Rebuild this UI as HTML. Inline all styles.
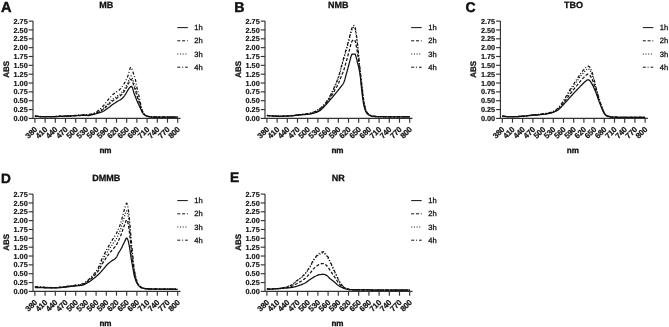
<!DOCTYPE html>
<html><head><meta charset="utf-8"><style>
html,body{margin:0;padding:0;background:#fff;width:669px;height:327px;overflow:hidden}
svg{display:block;filter:grayscale(1)}
text{font-family:"Liberation Sans", sans-serif;fill:#111;font-weight:bold;stroke:#111;text-rendering:geometricPrecision}
.yl{font-size:7.3px;text-anchor:end;stroke-width:0.15}
.xl{font-size:7.8px;text-anchor:end;stroke-width:0.22}
.at{font-size:8.1px;text-anchor:middle;stroke-width:0.3}
.ab{font-size:8.0px;text-anchor:middle;stroke-width:0.3}
.ti{font-size:9px;text-anchor:middle;stroke-width:0.3}
.le{stroke-width:0.45}
.lg{font-size:7.6px;stroke-width:0.28;font-weight:normal}
</style></head><body>
<svg width="669" height="327" viewBox="0 0 669 327">
<rect width="669" height="327" fill="#fff"/>
<path d="M33.0,21.11 V118.4 H180.50" fill="none" stroke="#333" stroke-width="1.15"/>
<path d="M28.70,118.40 H33.0" stroke="#333" stroke-width="1.15"/>
<text x="27.70" y="121.00" class="yl">0.00</text>
<path d="M28.70,109.56 H33.0" stroke="#333" stroke-width="1.15"/>
<text x="27.70" y="112.16" class="yl">0.25</text>
<path d="M28.70,100.71 H33.0" stroke="#333" stroke-width="1.15"/>
<text x="27.70" y="103.31" class="yl">0.50</text>
<path d="M28.70,91.87 H33.0" stroke="#333" stroke-width="1.15"/>
<text x="27.70" y="94.47" class="yl">0.75</text>
<path d="M28.70,83.02 H33.0" stroke="#333" stroke-width="1.15"/>
<text x="27.70" y="85.62" class="yl">1.00</text>
<path d="M28.70,74.18 H33.0" stroke="#333" stroke-width="1.15"/>
<text x="27.70" y="76.78" class="yl">1.25</text>
<path d="M28.70,65.33 H33.0" stroke="#333" stroke-width="1.15"/>
<text x="27.70" y="67.93" class="yl">1.50</text>
<path d="M28.70,56.48 H33.0" stroke="#333" stroke-width="1.15"/>
<text x="27.70" y="59.09" class="yl">1.75</text>
<path d="M28.70,47.64 H33.0" stroke="#333" stroke-width="1.15"/>
<text x="27.70" y="50.24" class="yl">2.00</text>
<path d="M28.70,38.80 H33.0" stroke="#333" stroke-width="1.15"/>
<text x="27.70" y="41.40" class="yl">2.25</text>
<path d="M28.70,29.95 H33.0" stroke="#333" stroke-width="1.15"/>
<text x="27.70" y="32.55" class="yl">2.50</text>
<path d="M28.70,21.11 H33.0" stroke="#333" stroke-width="1.15"/>
<text x="27.70" y="23.71" class="yl">2.75</text>
<path d="M34.90,118.4 V122.70" stroke="#333" stroke-width="1.15"/>
<text x="37.80" y="129.90" class="xl" transform="rotate(-45 37.80 129.90)">380</text>
<path d="M45.10,118.4 V122.70" stroke="#333" stroke-width="1.15"/>
<text x="48.00" y="129.90" class="xl" transform="rotate(-45 48.00 129.90)">410</text>
<path d="M55.30,118.4 V122.70" stroke="#333" stroke-width="1.15"/>
<text x="58.20" y="129.90" class="xl" transform="rotate(-45 58.20 129.90)">440</text>
<path d="M65.50,118.4 V122.70" stroke="#333" stroke-width="1.15"/>
<text x="68.40" y="129.90" class="xl" transform="rotate(-45 68.40 129.90)">470</text>
<path d="M75.70,118.4 V122.70" stroke="#333" stroke-width="1.15"/>
<text x="78.60" y="129.90" class="xl" transform="rotate(-45 78.60 129.90)">500</text>
<path d="M85.90,118.4 V122.70" stroke="#333" stroke-width="1.15"/>
<text x="88.80" y="129.90" class="xl" transform="rotate(-45 88.80 129.90)">530</text>
<path d="M96.10,118.4 V122.70" stroke="#333" stroke-width="1.15"/>
<text x="99.00" y="129.90" class="xl" transform="rotate(-45 99.00 129.90)">560</text>
<path d="M106.30,118.4 V122.70" stroke="#333" stroke-width="1.15"/>
<text x="109.20" y="129.90" class="xl" transform="rotate(-45 109.20 129.90)">590</text>
<path d="M116.50,118.4 V122.70" stroke="#333" stroke-width="1.15"/>
<text x="119.40" y="129.90" class="xl" transform="rotate(-45 119.40 129.90)">620</text>
<path d="M126.70,118.4 V122.70" stroke="#333" stroke-width="1.15"/>
<text x="129.60" y="129.90" class="xl" transform="rotate(-45 129.60 129.90)">650</text>
<path d="M136.90,118.4 V122.70" stroke="#333" stroke-width="1.15"/>
<text x="139.80" y="129.90" class="xl" transform="rotate(-45 139.80 129.90)">680</text>
<path d="M147.10,118.4 V122.70" stroke="#333" stroke-width="1.15"/>
<text x="150.00" y="129.90" class="xl" transform="rotate(-45 150.00 129.90)">710</text>
<path d="M157.30,118.4 V122.70" stroke="#333" stroke-width="1.15"/>
<text x="160.20" y="129.90" class="xl" transform="rotate(-45 160.20 129.90)">740</text>
<path d="M167.50,118.4 V122.70" stroke="#333" stroke-width="1.15"/>
<text x="170.40" y="129.90" class="xl" transform="rotate(-45 170.40 129.90)">770</text>
<path d="M177.70,118.4 V122.70" stroke="#333" stroke-width="1.15"/>
<text x="180.60" y="129.90" class="xl" transform="rotate(-45 180.60 129.90)">800</text>
<text x="105.45" y="153.40" class="at">nm</text>
<text x="9.00" y="69.25" class="ab" transform="rotate(-90 9.00 69.25)">ABS</text>
<text x="106.15" y="8.21" class="ti">MB</text>
<text x="0.9" y="12.0" class="le" font-size="14.6">A</text>
<path d="M177.3,27.61 H187.80" stroke="#111" stroke-width="1"/>
<text x="194.30" y="30.21" class="lg">1h</text>
<path d="M177.3,40.81 H187.80" stroke="#111" stroke-width="1" stroke-dasharray="3 1.8"/>
<text x="194.30" y="43.41" class="lg">2h</text>
<path d="M177.3,54.01 H187.80" stroke="#111" stroke-width="1" stroke-dasharray="1 1.7"/>
<text x="194.30" y="56.61" class="lg">3h</text>
<path d="M177.3,67.20 H187.80" stroke="#111" stroke-width="1" stroke-dasharray="3 1.8 1 2"/>
<text x="194.30" y="69.80" class="lg">4h</text>
<path d="M34.9,116.3 35.4,116.3 35.9,116.3 36.4,116.4 36.9,116.4 37.4,116.4 38.0,116.4 38.5,116.4 39.0,116.5 39.5,116.5 40.0,116.5 40.5,116.5 41.0,116.5 41.5,116.6 42.0,116.6 42.5,116.6 43.1,116.6 43.6,116.6 44.1,116.6 44.6,116.6 45.1,116.7 45.6,116.7 46.1,116.7 46.6,116.7 47.1,116.7 47.6,116.7 48.2,116.7 48.7,116.7 49.2,116.7 49.7,116.7 50.2,116.7 50.7,116.7 51.2,116.7 51.7,116.6 52.2,116.6 52.8,116.6 53.3,116.6 53.8,116.6 54.3,116.6 54.8,116.5 55.3,116.5 55.8,116.5 56.3,116.5 56.8,116.5 57.3,116.5 57.8,116.5 58.4,116.4 58.9,116.4 59.4,116.4 59.9,116.4 60.4,116.4 60.9,116.4 61.4,116.4 61.9,116.3 62.4,116.3 62.9,116.3 63.5,116.3 64.0,116.3 64.5,116.3 65.0,116.2 65.5,116.2 66.0,116.2 66.5,116.2 67.0,116.2 67.5,116.1 68.0,116.1 68.6,116.1 69.1,116.1 69.6,116.1 70.1,116.0 70.6,116.0 71.1,116.0 71.6,115.9 72.1,115.9 72.6,115.9 73.2,115.8 73.7,115.8 74.2,115.8 74.7,115.8 75.2,115.7 75.7,115.7 76.2,115.7 76.7,115.7 77.2,115.6 77.7,115.6 78.2,115.6 78.8,115.6 79.3,115.5 79.8,115.5 80.3,115.5 80.8,115.4 81.3,115.4 81.8,115.4 82.3,115.4 82.8,115.4 83.3,115.3 83.9,115.3 84.4,115.3 84.9,115.3 85.4,115.3 85.9,115.3 86.4,115.3 86.9,115.3 87.4,115.5 87.9,115.6 88.4,115.5 89.0,115.5 89.5,115.4 90.0,115.3 90.5,115.2 91.0,115.0 91.5,114.9 92.0,114.8 92.5,114.6 93.0,114.5 93.5,114.4 94.1,114.3 94.6,114.1 95.1,114.0 95.6,113.8 96.1,113.7 96.6,113.5 97.1,113.4 97.6,113.2 98.1,113.1 98.6,112.9 99.2,112.8 99.7,112.6 100.2,112.5 100.7,112.3 101.2,112.1 101.7,111.9 102.2,111.8 102.7,111.6 103.2,111.3 103.8,111.0 104.3,110.7 104.8,110.3 105.3,110.0 105.8,109.6 106.3,109.2 106.8,108.9 107.3,108.5 107.8,108.2 108.3,107.8 108.8,107.5 109.4,107.1 109.9,106.7 110.4,106.2 110.9,105.8 111.4,105.4 111.9,105.0 112.4,104.6 112.9,104.3 113.4,103.9 113.9,103.6 114.5,103.3 115.0,103.0 115.5,102.7 116.0,102.4 116.5,102.0 117.0,101.6 117.5,101.3 118.0,101.0 118.5,100.7 119.0,100.5 119.6,100.2 120.1,99.9 120.6,99.6 121.1,99.2 121.6,98.9 122.1,98.4 122.6,98.0 123.1,97.5 123.6,96.9 124.2,96.2 124.7,95.5 125.2,94.7 125.7,93.8 126.2,93.0 126.7,92.1 127.2,91.3 127.7,90.4 128.2,89.7 128.7,88.9 129.2,88.2 129.8,87.5 130.3,86.9 130.8,86.6 131.3,86.4 131.8,86.6 132.3,87.6 132.8,88.9 133.3,90.6 133.8,92.5 134.3,94.1 134.9,95.5 135.4,96.7 135.9,98.1 136.4,99.4 136.9,100.7 137.4,101.8 137.9,102.9 138.4,103.9 138.9,105.0 139.4,106.2 140.0,107.4 140.5,108.5 141.0,109.6 141.5,110.7 142.0,111.8 142.5,112.7 143.0,113.4 143.5,114.0 144.0,114.5 144.5,114.9 145.1,115.2 145.6,115.5 146.1,115.8 146.6,116.0 147.1,116.1 147.6,116.3 148.1,116.4 148.6,116.6 149.1,116.7 149.6,116.8 150.2,116.8 150.7,116.9 151.2,116.9 151.7,116.9 152.2,117.0 152.7,117.0 153.2,117.0 153.7,117.0 154.2,117.0 154.8,117.0 155.3,117.0 155.8,117.1 156.3,117.1 156.8,117.1 157.3,117.1 157.8,117.1 158.3,117.1 158.8,117.1 159.3,117.1 159.8,117.1 160.4,117.1 160.9,117.1 161.4,117.1 161.9,117.1 162.4,117.1 162.9,117.1 163.4,117.1 163.9,117.1 164.4,117.1 164.9,117.1 165.5,117.1 166.0,117.1 166.5,117.1 167.0,117.1 167.5,117.1 168.0,117.1 168.5,117.1 169.0,117.1 169.5,117.1 170.0,117.1 170.6,117.1 171.1,117.1 171.6,117.1 172.1,117.1 172.6,117.1 173.1,117.1 173.6,117.1 174.1,117.1 174.6,117.1 175.2,117.1 175.7,117.1 176.2,117.1 176.7,117.1 177.2,117.1 177.7,117.1" fill="none" stroke="#111" stroke-width="1.25"/>
<path d="M34.9,116.2 35.4,116.2 35.9,116.3 36.4,116.3 36.9,116.3 37.4,116.3 38.0,116.4 38.5,116.4 39.0,116.4 39.5,116.4 40.0,116.5 40.5,116.5 41.0,116.5 41.5,116.5 42.0,116.5 42.5,116.5 43.1,116.6 43.6,116.6 44.1,116.6 44.6,116.6 45.1,116.6 45.6,116.6 46.1,116.7 46.6,116.7 47.1,116.7 47.6,116.7 48.2,116.7 48.7,116.7 49.2,116.7 49.7,116.7 50.2,116.6 50.7,116.6 51.2,116.6 51.7,116.6 52.2,116.6 52.8,116.6 53.3,116.6 53.8,116.5 54.3,116.5 54.8,116.5 55.3,116.5 55.8,116.5 56.3,116.4 56.8,116.4 57.3,116.4 57.8,116.4 58.4,116.4 58.9,116.4 59.4,116.4 59.9,116.3 60.4,116.3 60.9,116.3 61.4,116.3 61.9,116.3 62.4,116.3 62.9,116.2 63.5,116.2 64.0,116.2 64.5,116.2 65.0,116.2 65.5,116.1 66.0,116.1 66.5,116.1 67.0,116.1 67.5,116.1 68.0,116.0 68.6,116.0 69.1,116.0 69.6,116.0 70.1,115.9 70.6,115.9 71.1,115.9 71.6,115.8 72.1,115.8 72.6,115.8 73.2,115.7 73.7,115.7 74.2,115.7 74.7,115.6 75.2,115.6 75.7,115.6 76.2,115.5 76.7,115.5 77.2,115.5 77.7,115.5 78.2,115.4 78.8,115.4 79.3,115.4 79.8,115.3 80.3,115.3 80.8,115.3 81.3,115.2 81.8,115.2 82.3,115.2 82.8,115.2 83.3,115.1 83.9,115.1 84.4,115.1 84.9,115.1 85.4,115.0 85.9,115.0 86.4,115.0 86.9,115.0 87.4,115.1 87.9,115.1 88.4,115.1 89.0,115.1 89.5,115.0 90.0,114.9 90.5,114.8 91.0,114.7 91.5,114.6 92.0,114.5 92.5,114.3 93.0,114.2 93.5,114.0 94.1,113.8 94.6,113.6 95.1,113.5 95.6,113.3 96.1,113.1 96.6,112.9 97.1,112.7 97.6,112.5 98.1,112.2 98.6,112.0 99.2,111.7 99.7,111.5 100.2,111.2 100.7,110.9 101.2,110.6 101.7,110.3 102.2,110.0 102.7,109.7 103.2,109.3 103.8,109.0 104.3,108.5 104.8,108.0 105.3,107.5 105.8,107.0 106.3,106.6 106.8,106.1 107.3,105.6 107.8,105.2 108.3,104.8 108.8,104.3 109.4,103.8 109.9,103.4 110.4,102.9 110.9,102.4 111.4,101.9 111.9,101.5 112.4,101.1 112.9,100.7 113.4,100.3 113.9,100.0 114.5,99.6 115.0,99.3 115.5,99.0 116.0,98.7 116.5,98.3 117.0,97.9 117.5,97.6 118.0,97.3 118.5,97.0 119.0,96.7 119.6,96.3 120.1,95.9 120.6,95.5 121.1,95.1 121.6,94.6 122.1,94.1 122.6,93.5 123.1,92.9 123.6,92.2 124.2,91.5 124.7,90.7 125.2,89.9 125.7,89.0 126.2,88.1 126.7,87.2 127.2,86.2 127.7,85.2 128.2,84.2 128.7,83.2 129.2,82.0 129.8,80.9 130.3,79.8 130.8,79.5 131.3,79.4 131.8,80.0 132.3,81.1 132.8,82.4 133.3,84.1 133.8,85.8 134.3,87.4 134.9,88.8 135.4,90.3 135.9,92.1 136.4,94.0 136.9,95.7 137.4,97.2 137.9,98.7 138.4,100.1 138.9,101.6 139.4,103.1 140.0,104.9 140.5,106.6 141.0,108.1 141.5,109.6 142.0,110.9 142.5,112.1 143.0,112.9 143.5,113.6 144.0,114.1 144.5,114.6 145.1,115.1 145.6,115.4 146.1,115.7 146.6,115.9 147.1,116.1 147.6,116.2 148.1,116.4 148.6,116.5 149.1,116.6 149.6,116.7 150.2,116.8 150.7,116.8 151.2,116.9 151.7,116.9 152.2,116.9 152.7,116.9 153.2,116.9 153.7,117.0 154.2,117.0 154.8,117.0 155.3,117.0 155.8,117.0 156.3,117.0 156.8,117.0 157.3,117.0 157.8,117.0 158.3,117.0 158.8,117.0 159.3,117.1 159.8,117.1 160.4,117.1 160.9,117.1 161.4,117.1 161.9,117.1 162.4,117.1 162.9,117.1 163.4,117.1 163.9,117.1 164.4,117.1 164.9,117.1 165.5,117.1 166.0,117.1 166.5,117.1 167.0,117.1 167.5,117.1 168.0,117.1 168.5,117.1 169.0,117.1 169.5,117.1 170.0,117.1 170.6,117.1 171.1,117.1 171.6,117.1 172.1,117.1 172.6,117.1 173.1,117.1 173.6,117.1 174.1,117.1 174.6,117.1 175.2,117.1 175.7,117.1 176.2,117.1 176.7,117.1 177.2,117.1 177.7,117.1" fill="none" stroke="#111" stroke-width="1.25" stroke-dasharray="3 1.8"/>
<path d="M34.9,116.2 35.4,116.2 35.9,116.2 36.4,116.3 36.9,116.3 37.4,116.3 38.0,116.3 38.5,116.4 39.0,116.4 39.5,116.4 40.0,116.4 40.5,116.5 41.0,116.5 41.5,116.5 42.0,116.5 42.5,116.5 43.1,116.6 43.6,116.6 44.1,116.6 44.6,116.6 45.1,116.6 45.6,116.6 46.1,116.6 46.6,116.7 47.1,116.7 47.6,116.7 48.2,116.7 48.7,116.7 49.2,116.7 49.7,116.6 50.2,116.6 50.7,116.6 51.2,116.6 51.7,116.6 52.2,116.6 52.8,116.6 53.3,116.5 53.8,116.5 54.3,116.5 54.8,116.5 55.3,116.5 55.8,116.4 56.3,116.4 56.8,116.4 57.3,116.4 57.8,116.4 58.4,116.4 58.9,116.3 59.4,116.3 59.9,116.3 60.4,116.3 60.9,116.3 61.4,116.3 61.9,116.2 62.4,116.2 62.9,116.2 63.5,116.2 64.0,116.2 64.5,116.1 65.0,116.1 65.5,116.1 66.0,116.1 66.5,116.1 67.0,116.0 67.5,116.0 68.0,116.0 68.6,116.0 69.1,115.9 69.6,115.9 70.1,115.9 70.6,115.9 71.1,115.8 71.6,115.8 72.1,115.7 72.6,115.7 73.2,115.7 73.7,115.6 74.2,115.6 74.7,115.6 75.2,115.5 75.7,115.5 76.2,115.5 76.7,115.4 77.2,115.4 77.7,115.4 78.2,115.3 78.8,115.3 79.3,115.3 79.8,115.2 80.3,115.2 80.8,115.2 81.3,115.2 81.8,115.1 82.3,115.1 82.8,115.1 83.3,115.0 83.9,115.0 84.4,115.0 84.9,114.9 85.4,114.9 85.9,114.9 86.4,114.9 86.9,114.9 87.4,114.9 87.9,114.9 88.4,114.9 89.0,114.9 89.5,114.8 90.0,114.7 90.5,114.7 91.0,114.6 91.5,114.4 92.0,114.3 92.5,114.2 93.0,114.0 93.5,113.8 94.1,113.6 94.6,113.4 95.1,113.2 95.6,113.0 96.1,112.8 96.6,112.6 97.1,112.3 97.6,112.1 98.1,111.8 98.6,111.5 99.2,111.2 99.7,110.9 100.2,110.6 100.7,110.3 101.2,109.9 101.7,109.6 102.2,109.2 102.7,108.9 103.2,108.4 103.8,108.0 104.3,107.5 104.8,107.0 105.3,106.4 105.8,105.9 106.3,105.3 106.8,104.8 107.3,104.3 107.8,103.8 108.3,103.4 108.8,102.9 109.4,102.4 109.9,101.8 110.4,101.3 110.9,100.8 111.4,100.3 111.9,99.9 112.4,99.4 112.9,99.0 113.4,98.6 113.9,98.3 114.5,97.9 115.0,97.6 115.5,97.3 116.0,96.9 116.5,96.6 117.0,96.2 117.5,95.9 118.0,95.6 118.5,95.3 119.0,94.9 119.6,94.6 120.1,94.1 120.6,93.7 121.1,93.1 121.6,92.6 122.1,92.0 122.6,91.4 123.1,90.8 123.6,90.1 124.2,89.3 124.7,88.5 125.2,87.7 125.7,86.8 126.2,85.9 126.7,84.9 127.2,83.9 127.7,82.9 128.2,81.8 128.7,80.5 129.2,79.2 129.8,77.8 130.3,76.5 130.8,76.2 131.3,76.2 131.8,76.9 132.3,78.1 132.8,79.4 133.3,81.1 133.8,82.8 134.3,84.3 134.9,85.8 135.4,87.4 135.9,89.4 136.4,91.5 136.9,93.5 137.4,95.1 137.9,96.7 138.4,98.3 138.9,100.0 139.4,101.8 140.0,103.8 140.5,105.8 141.0,107.4 141.5,109.0 142.0,110.5 142.5,111.8 143.0,112.7 143.5,113.4 144.0,114.0 144.5,114.5 145.1,115.0 145.6,115.4 146.1,115.7 146.6,115.9 147.1,116.1 147.6,116.2 148.1,116.4 148.6,116.5 149.1,116.6 149.6,116.7 150.2,116.8 150.7,116.8 151.2,116.9 151.7,116.9 152.2,116.9 152.7,116.9 153.2,116.9 153.7,116.9 154.2,117.0 154.8,117.0 155.3,117.0 155.8,117.0 156.3,117.0 156.8,117.0 157.3,117.0 157.8,117.0 158.3,117.0 158.8,117.0 159.3,117.0 159.8,117.0 160.4,117.0 160.9,117.0 161.4,117.0 161.9,117.0 162.4,117.0 162.9,117.0 163.4,117.0 163.9,117.0 164.4,117.0 164.9,117.0 165.5,117.0 166.0,117.0 166.5,117.0 167.0,117.0 167.5,117.0 168.0,117.0 168.5,117.0 169.0,117.0 169.5,117.0 170.0,117.0 170.6,117.0 171.1,117.0 171.6,117.0 172.1,117.0 172.6,117.0 173.1,117.0 173.6,117.0 174.1,117.0 174.6,117.0 175.2,117.0 175.7,117.0 176.2,117.0 176.7,117.0 177.2,117.0 177.7,117.0" fill="none" stroke="#111" stroke-width="1.25" stroke-dasharray="1 1.7"/>
<path d="M34.9,116.1 35.4,116.1 35.9,116.2 36.4,116.2 36.9,116.2 37.4,116.3 38.0,116.3 38.5,116.3 39.0,116.3 39.5,116.4 40.0,116.4 40.5,116.4 41.0,116.4 41.5,116.4 42.0,116.5 42.5,116.5 43.1,116.5 43.6,116.5 44.1,116.5 44.6,116.6 45.1,116.6 45.6,116.6 46.1,116.6 46.6,116.6 47.1,116.6 47.6,116.6 48.2,116.6 48.7,116.6 49.2,116.6 49.7,116.6 50.2,116.6 50.7,116.6 51.2,116.6 51.7,116.5 52.2,116.5 52.8,116.5 53.3,116.5 53.8,116.5 54.3,116.4 54.8,116.4 55.3,116.4 55.8,116.4 56.3,116.4 56.8,116.3 57.3,116.3 57.8,116.3 58.4,116.3 58.9,116.3 59.4,116.2 59.9,116.2 60.4,116.2 60.9,116.2 61.4,116.2 61.9,116.2 62.4,116.1 62.9,116.1 63.5,116.1 64.0,116.1 64.5,116.0 65.0,116.0 65.5,116.0 66.0,116.0 66.5,116.0 67.0,115.9 67.5,115.9 68.0,115.9 68.6,115.9 69.1,115.8 69.6,115.8 70.1,115.8 70.6,115.7 71.1,115.7 71.6,115.7 72.1,115.6 72.6,115.6 73.2,115.5 73.7,115.5 74.2,115.5 74.7,115.4 75.2,115.4 75.7,115.3 76.2,115.3 76.7,115.3 77.2,115.2 77.7,115.2 78.2,115.2 78.8,115.1 79.3,115.1 79.8,115.0 80.3,115.0 80.8,115.0 81.3,114.9 81.8,114.9 82.3,114.8 82.8,114.8 83.3,114.8 83.9,114.7 84.4,114.7 84.9,114.6 85.4,114.6 85.9,114.6 86.4,114.5 86.9,114.5 87.4,114.4 87.9,114.4 88.4,114.4 89.0,114.4 89.5,114.3 90.0,114.3 90.5,114.2 91.0,114.2 91.5,114.1 92.0,113.9 92.5,113.7 93.0,113.5 93.5,113.3 94.1,113.1 94.6,112.8 95.1,112.6 95.6,112.3 96.1,112.1 96.6,111.8 97.1,111.5 97.6,111.1 98.1,110.7 98.6,110.3 99.2,109.9 99.7,109.5 100.2,109.0 100.7,108.6 101.2,108.1 101.7,107.6 102.2,107.1 102.7,106.5 103.2,106.0 103.8,105.4 104.3,104.7 104.8,104.1 105.3,103.4 105.8,102.7 106.3,102.1 106.8,101.4 107.3,100.8 107.8,100.2 108.3,99.5 108.8,98.9 109.4,98.3 109.9,97.7 110.4,97.1 110.9,96.6 111.4,96.0 111.9,95.5 112.4,95.0 112.9,94.5 113.4,94.1 113.9,93.7 114.5,93.4 115.0,93.0 115.5,92.7 116.0,92.3 116.5,92.0 117.0,91.6 117.5,91.3 118.0,91.0 118.5,90.6 119.0,90.2 119.6,89.8 120.1,89.2 120.6,88.6 121.1,87.9 121.6,87.3 122.1,86.6 122.6,85.8 123.1,85.1 123.6,84.3 124.2,83.5 124.7,82.6 125.2,81.7 125.7,80.8 126.2,79.8 126.7,78.8 127.2,77.6 127.7,76.4 128.2,75.0 128.7,73.4 129.2,71.5 129.8,69.6 130.3,67.7 130.8,67.5 131.3,67.6 131.8,68.7 132.3,70.0 132.8,71.4 133.3,73.0 133.8,74.5 134.3,75.9 134.9,77.5 135.4,79.5 135.9,82.0 136.4,84.7 136.9,87.3 137.4,89.5 137.9,91.5 138.4,93.6 138.9,95.7 139.4,98.0 140.0,100.8 140.5,103.5 141.0,105.6 141.5,107.6 142.0,109.4 142.5,110.9 143.0,112.0 143.5,112.9 144.0,113.6 144.5,114.2 145.1,114.8 145.6,115.3 146.1,115.6 146.6,115.8 147.1,116.0 147.6,116.2 148.1,116.3 148.6,116.4 149.1,116.6 149.6,116.6 150.2,116.7 150.7,116.8 151.2,116.8 151.7,116.8 152.2,116.8 152.7,116.9 153.2,116.9 153.7,116.9 154.2,116.9 154.8,116.9 155.3,116.9 155.8,116.9 156.3,117.0 156.8,117.0 157.3,117.0 157.8,117.0 158.3,117.0 158.8,117.0 159.3,117.0 159.8,117.0 160.4,117.0 160.9,117.0 161.4,117.0 161.9,117.0 162.4,117.0 162.9,117.0 163.4,117.0 163.9,117.0 164.4,117.0 164.9,117.0 165.5,117.0 166.0,117.0 166.5,117.0 167.0,117.0 167.5,117.0 168.0,117.0 168.5,117.0 169.0,117.0 169.5,117.0 170.0,117.0 170.6,117.0 171.1,117.0 171.6,117.0 172.1,117.0 172.6,117.0 173.1,117.0 173.6,117.0 174.1,117.0 174.6,117.0 175.2,117.0 175.7,117.0 176.2,117.0 176.7,117.0 177.2,117.0 177.7,117.0" fill="none" stroke="#111" stroke-width="1.25" stroke-dasharray="3 1.8 1 2"/>
<path d="M265.0,21.11 V118.4 H412.50" fill="none" stroke="#333" stroke-width="1.15"/>
<path d="M260.70,118.40 H265.0" stroke="#333" stroke-width="1.15"/>
<text x="259.70" y="121.00" class="yl">0.00</text>
<path d="M260.70,109.56 H265.0" stroke="#333" stroke-width="1.15"/>
<text x="259.70" y="112.16" class="yl">0.25</text>
<path d="M260.70,100.71 H265.0" stroke="#333" stroke-width="1.15"/>
<text x="259.70" y="103.31" class="yl">0.50</text>
<path d="M260.70,91.87 H265.0" stroke="#333" stroke-width="1.15"/>
<text x="259.70" y="94.47" class="yl">0.75</text>
<path d="M260.70,83.02 H265.0" stroke="#333" stroke-width="1.15"/>
<text x="259.70" y="85.62" class="yl">1.00</text>
<path d="M260.70,74.18 H265.0" stroke="#333" stroke-width="1.15"/>
<text x="259.70" y="76.78" class="yl">1.25</text>
<path d="M260.70,65.33 H265.0" stroke="#333" stroke-width="1.15"/>
<text x="259.70" y="67.93" class="yl">1.50</text>
<path d="M260.70,56.48 H265.0" stroke="#333" stroke-width="1.15"/>
<text x="259.70" y="59.09" class="yl">1.75</text>
<path d="M260.70,47.64 H265.0" stroke="#333" stroke-width="1.15"/>
<text x="259.70" y="50.24" class="yl">2.00</text>
<path d="M260.70,38.80 H265.0" stroke="#333" stroke-width="1.15"/>
<text x="259.70" y="41.40" class="yl">2.25</text>
<path d="M260.70,29.95 H265.0" stroke="#333" stroke-width="1.15"/>
<text x="259.70" y="32.55" class="yl">2.50</text>
<path d="M260.70,21.11 H265.0" stroke="#333" stroke-width="1.15"/>
<text x="259.70" y="23.71" class="yl">2.75</text>
<path d="M266.90,118.4 V122.70" stroke="#333" stroke-width="1.15"/>
<text x="269.80" y="129.90" class="xl" transform="rotate(-45 269.80 129.90)">380</text>
<path d="M277.10,118.4 V122.70" stroke="#333" stroke-width="1.15"/>
<text x="280.00" y="129.90" class="xl" transform="rotate(-45 280.00 129.90)">410</text>
<path d="M287.30,118.4 V122.70" stroke="#333" stroke-width="1.15"/>
<text x="290.20" y="129.90" class="xl" transform="rotate(-45 290.20 129.90)">440</text>
<path d="M297.50,118.4 V122.70" stroke="#333" stroke-width="1.15"/>
<text x="300.40" y="129.90" class="xl" transform="rotate(-45 300.40 129.90)">470</text>
<path d="M307.70,118.4 V122.70" stroke="#333" stroke-width="1.15"/>
<text x="310.60" y="129.90" class="xl" transform="rotate(-45 310.60 129.90)">500</text>
<path d="M317.90,118.4 V122.70" stroke="#333" stroke-width="1.15"/>
<text x="320.80" y="129.90" class="xl" transform="rotate(-45 320.80 129.90)">530</text>
<path d="M328.10,118.4 V122.70" stroke="#333" stroke-width="1.15"/>
<text x="331.00" y="129.90" class="xl" transform="rotate(-45 331.00 129.90)">560</text>
<path d="M338.30,118.4 V122.70" stroke="#333" stroke-width="1.15"/>
<text x="341.20" y="129.90" class="xl" transform="rotate(-45 341.20 129.90)">590</text>
<path d="M348.50,118.4 V122.70" stroke="#333" stroke-width="1.15"/>
<text x="351.40" y="129.90" class="xl" transform="rotate(-45 351.40 129.90)">620</text>
<path d="M358.70,118.4 V122.70" stroke="#333" stroke-width="1.15"/>
<text x="361.60" y="129.90" class="xl" transform="rotate(-45 361.60 129.90)">650</text>
<path d="M368.90,118.4 V122.70" stroke="#333" stroke-width="1.15"/>
<text x="371.80" y="129.90" class="xl" transform="rotate(-45 371.80 129.90)">680</text>
<path d="M379.10,118.4 V122.70" stroke="#333" stroke-width="1.15"/>
<text x="382.00" y="129.90" class="xl" transform="rotate(-45 382.00 129.90)">710</text>
<path d="M389.30,118.4 V122.70" stroke="#333" stroke-width="1.15"/>
<text x="392.20" y="129.90" class="xl" transform="rotate(-45 392.20 129.90)">740</text>
<path d="M399.50,118.4 V122.70" stroke="#333" stroke-width="1.15"/>
<text x="402.40" y="129.90" class="xl" transform="rotate(-45 402.40 129.90)">770</text>
<path d="M409.70,118.4 V122.70" stroke="#333" stroke-width="1.15"/>
<text x="412.60" y="129.90" class="xl" transform="rotate(-45 412.60 129.90)">800</text>
<text x="337.45" y="153.40" class="at">nm</text>
<text x="241.00" y="69.25" class="ab" transform="rotate(-90 241.00 69.25)">ABS</text>
<text x="338.15" y="8.21" class="ti">NMB</text>
<text x="234.2" y="11.6" class="le" font-size="14.2">B</text>
<path d="M411.2,27.61 H421.70" stroke="#111" stroke-width="1"/>
<text x="428.20" y="30.21" class="lg">1h</text>
<path d="M411.2,40.81 H421.70" stroke="#111" stroke-width="1" stroke-dasharray="3 1.8"/>
<text x="428.20" y="43.41" class="lg">2h</text>
<path d="M411.2,54.01 H421.70" stroke="#111" stroke-width="1" stroke-dasharray="1 1.7"/>
<text x="428.20" y="56.61" class="lg">3h</text>
<path d="M411.2,67.20 H421.70" stroke="#111" stroke-width="1" stroke-dasharray="3 1.8 1 2"/>
<text x="428.20" y="69.80" class="lg">4h</text>
<path d="M266.9,115.6 267.4,115.6 267.9,115.6 268.4,115.7 268.9,115.7 269.4,115.8 270.0,115.8 270.5,115.8 271.0,115.9 271.5,115.9 272.0,115.9 272.5,116.0 273.0,116.0 273.5,116.0 274.0,116.1 274.5,116.1 275.1,116.2 275.6,116.2 276.1,116.2 276.6,116.3 277.1,116.3 277.6,116.3 278.1,116.3 278.6,116.3 279.1,116.3 279.6,116.3 280.2,116.3 280.7,116.3 281.2,116.3 281.7,116.3 282.2,116.3 282.7,116.3 283.2,116.3 283.7,116.3 284.2,116.2 284.8,116.2 285.3,116.2 285.8,116.2 286.3,116.2 286.8,116.1 287.3,116.1 287.8,116.1 288.3,116.0 288.8,116.0 289.3,116.0 289.8,115.9 290.4,115.9 290.9,115.9 291.4,115.8 291.9,115.8 292.4,115.7 292.9,115.7 293.4,115.6 293.9,115.6 294.4,115.5 294.9,115.5 295.5,115.4 296.0,115.3 296.5,115.3 297.0,115.2 297.5,115.2 298.0,115.1 298.5,115.0 299.0,115.0 299.5,114.9 300.0,114.9 300.6,114.8 301.1,114.8 301.6,114.7 302.1,114.7 302.6,114.7 303.1,114.6 303.6,114.6 304.1,114.6 304.6,114.5 305.1,114.5 305.7,114.5 306.2,114.4 306.7,114.4 307.2,114.4 307.7,114.3 308.2,114.3 308.7,114.2 309.2,114.1 309.7,114.1 310.2,114.0 310.8,113.9 311.3,113.8 311.8,113.7 312.3,113.5 312.8,113.4 313.3,113.3 313.8,113.1 314.3,113.0 314.8,112.8 315.3,112.7 315.9,112.5 316.4,112.3 316.9,112.1 317.4,111.9 317.9,111.7 318.4,111.4 318.9,111.2 319.4,110.9 319.9,110.6 320.4,110.3 321.0,109.8 321.5,109.3 322.0,108.8 322.5,108.3 323.0,107.8 323.5,107.3 324.0,106.8 324.5,106.2 325.0,105.7 325.5,105.1 326.1,104.5 326.6,104.0 327.1,103.4 327.6,102.8 328.1,102.3 328.6,101.7 329.1,101.1 329.6,100.5 330.1,99.9 330.6,99.3 331.2,98.7 331.7,98.1 332.2,97.5 332.7,96.9 333.2,96.3 333.7,95.6 334.2,95.0 334.7,94.4 335.2,93.8 335.8,93.2 336.3,92.5 336.8,91.9 337.3,91.3 337.8,90.6 338.3,90.0 338.8,89.4 339.3,88.8 339.8,88.1 340.3,87.5 340.8,86.8 341.4,86.1 341.9,85.4 342.4,84.8 342.9,84.1 343.4,83.3 343.9,82.3 344.4,81.1 344.9,79.4 345.4,77.5 345.9,75.4 346.5,73.5 347.0,71.6 347.5,69.8 348.0,67.9 348.5,66.0 349.0,64.1 349.5,62.2 350.0,60.3 350.5,58.4 351.0,56.5 351.6,55.1 352.1,54.1 352.6,54.0 353.1,54.0 353.6,54.0 354.1,54.0 354.6,54.0 355.1,54.1 355.6,55.4 356.1,57.2 356.7,59.2 357.2,61.3 357.7,63.4 358.2,65.4 358.7,67.4 359.2,69.6 359.7,72.1 360.2,75.5 360.7,80.3 361.2,85.4 361.8,90.4 362.3,95.1 362.8,98.9 363.3,102.3 363.8,105.0 364.3,107.0 364.8,108.9 365.3,110.4 365.8,111.5 366.3,112.4 366.9,113.2 367.4,113.8 367.9,114.4 368.4,114.8 368.9,115.0 369.4,115.3 369.9,115.5 370.4,115.7 370.9,115.9 371.4,116.1 372.0,116.2 372.5,116.3 373.0,116.3 373.5,116.4 374.0,116.4 374.5,116.5 375.0,116.5 375.5,116.5 376.0,116.6 376.5,116.6 377.1,116.6 377.6,116.6 378.1,116.7 378.6,116.7 379.1,116.7 379.6,116.7 380.1,116.7 380.6,116.7 381.1,116.7 381.6,116.7 382.2,116.7 382.7,116.7 383.2,116.7 383.7,116.8 384.2,116.8 384.7,116.8 385.2,116.8 385.7,116.8 386.2,116.8 386.8,116.8 387.3,116.8 387.8,116.8 388.3,116.8 388.8,116.8 389.3,116.8 389.8,116.8 390.3,116.8 390.8,116.8 391.3,116.8 391.8,116.8 392.4,116.8 392.9,116.8 393.4,116.8 393.9,116.8 394.4,116.8 394.9,116.8 395.4,116.8 395.9,116.8 396.4,116.8 396.9,116.8 397.5,116.8 398.0,116.8 398.5,116.8 399.0,116.8 399.5,116.8 400.0,116.8 400.5,116.8 401.0,116.8 401.5,116.8 402.0,116.8 402.6,116.8 403.1,116.8 403.6,116.8 404.1,116.8 404.6,116.8 405.1,116.8 405.6,116.8 406.1,116.8 406.6,116.8 407.1,116.8 407.7,116.8 408.2,116.8 408.7,116.8 409.2,116.8 409.7,116.8" fill="none" stroke="#111" stroke-width="1.25"/>
<path d="M266.9,115.5 267.4,115.5 267.9,115.6 268.4,115.6 268.9,115.6 269.4,115.7 270.0,115.7 270.5,115.7 271.0,115.8 271.5,115.8 272.0,115.8 272.5,115.9 273.0,115.9 273.5,116.0 274.0,116.0 274.5,116.0 275.1,116.1 275.6,116.1 276.1,116.1 276.6,116.2 277.1,116.2 277.6,116.2 278.1,116.2 278.6,116.2 279.1,116.2 279.6,116.2 280.2,116.2 280.7,116.2 281.2,116.2 281.7,116.2 282.2,116.2 282.7,116.2 283.2,116.2 283.7,116.2 284.2,116.2 284.8,116.1 285.3,116.1 285.8,116.1 286.3,116.1 286.8,116.0 287.3,116.0 287.8,116.0 288.3,115.9 288.8,115.9 289.3,115.8 289.8,115.8 290.4,115.8 290.9,115.7 291.4,115.7 291.9,115.7 292.4,115.6 292.9,115.6 293.4,115.5 293.9,115.5 294.4,115.4 294.9,115.3 295.5,115.3 296.0,115.2 296.5,115.1 297.0,115.1 297.5,115.0 298.0,114.9 298.5,114.9 299.0,114.8 299.5,114.8 300.0,114.7 300.6,114.6 301.1,114.6 301.6,114.6 302.1,114.5 302.6,114.5 303.1,114.4 303.6,114.4 304.1,114.3 304.6,114.3 305.1,114.2 305.7,114.2 306.2,114.2 306.7,114.1 307.2,114.0 307.7,114.0 308.2,113.9 308.7,113.9 309.2,113.8 309.7,113.7 310.2,113.6 310.8,113.5 311.3,113.3 311.8,113.2 312.3,113.0 312.8,112.9 313.3,112.7 313.8,112.5 314.3,112.4 314.8,112.2 315.3,112.0 315.9,111.8 316.4,111.5 316.9,111.3 317.4,111.0 317.9,110.8 318.4,110.5 318.9,110.2 319.4,109.9 319.9,109.6 320.4,109.2 321.0,108.8 321.5,108.3 322.0,107.9 322.5,107.4 323.0,106.9 323.5,106.4 324.0,105.8 324.5,105.3 325.0,104.7 325.5,104.1 326.1,103.4 326.6,102.8 327.1,102.1 327.6,101.4 328.1,100.7 328.6,100.0 329.1,99.3 329.6,98.6 330.1,97.8 330.6,97.1 331.2,96.3 331.7,95.5 332.2,94.7 332.7,93.8 333.2,93.0 333.7,92.1 334.2,91.2 334.7,90.3 335.2,89.4 335.8,88.5 336.3,87.6 336.8,86.7 337.3,85.7 337.8,84.7 338.3,83.7 338.8,82.6 339.3,81.4 339.8,80.2 340.3,78.9 340.8,77.6 341.4,76.2 341.9,74.9 342.4,73.6 342.9,72.4 343.4,71.1 343.9,69.7 344.4,68.2 344.9,66.5 345.4,64.6 345.9,62.7 346.5,60.8 347.0,59.0 347.5,57.1 348.0,55.3 348.5,53.4 349.0,51.5 349.5,49.6 350.0,47.6 350.5,45.6 351.0,43.6 351.6,42.0 352.1,41.0 352.6,40.4 353.1,40.0 353.6,39.7 354.1,39.7 354.6,40.0 355.1,40.7 355.6,42.4 356.1,45.2 356.7,48.2 357.2,51.2 357.7,54.5 358.2,57.9 358.7,61.6 359.2,65.6 359.7,69.3 360.2,73.2 360.7,77.9 361.2,82.6 361.8,87.3 362.3,92.0 362.8,96.1 363.3,99.6 363.8,102.7 364.3,105.2 364.8,107.3 365.3,109.2 365.8,110.6 366.3,111.7 366.9,112.6 367.4,113.3 367.9,113.9 368.4,114.4 368.9,114.8 369.4,115.1 369.9,115.3 370.4,115.5 370.9,115.7 371.4,115.9 372.0,116.0 372.5,116.1 373.0,116.2 373.5,116.3 374.0,116.3 374.5,116.4 375.0,116.4 375.5,116.5 376.0,116.5 376.5,116.5 377.1,116.6 377.6,116.6 378.1,116.6 378.6,116.6 379.1,116.7 379.6,116.7 380.1,116.7 380.6,116.7 381.1,116.7 381.6,116.7 382.2,116.7 382.7,116.7 383.2,116.7 383.7,116.7 384.2,116.7 384.7,116.7 385.2,116.7 385.7,116.7 386.2,116.7 386.8,116.7 387.3,116.8 387.8,116.8 388.3,116.8 388.8,116.8 389.3,116.8 389.8,116.8 390.3,116.8 390.8,116.8 391.3,116.8 391.8,116.8 392.4,116.8 392.9,116.8 393.4,116.8 393.9,116.8 394.4,116.8 394.9,116.8 395.4,116.8 395.9,116.8 396.4,116.8 396.9,116.8 397.5,116.8 398.0,116.8 398.5,116.8 399.0,116.8 399.5,116.8 400.0,116.8 400.5,116.8 401.0,116.8 401.5,116.8 402.0,116.8 402.6,116.8 403.1,116.8 403.6,116.8 404.1,116.8 404.6,116.8 405.1,116.8 405.6,116.8 406.1,116.8 406.6,116.8 407.1,116.8 407.7,116.8 408.2,116.8 408.7,116.8 409.2,116.8 409.7,116.8" fill="none" stroke="#111" stroke-width="1.25" stroke-dasharray="3 1.8"/>
<path d="M266.9,115.4 267.4,115.4 267.9,115.5 268.4,115.5 268.9,115.5 269.4,115.6 270.0,115.6 270.5,115.7 271.0,115.7 271.5,115.7 272.0,115.8 272.5,115.8 273.0,115.8 273.5,115.9 274.0,115.9 274.5,116.0 275.1,116.0 275.6,116.0 276.1,116.1 276.6,116.1 277.1,116.1 277.6,116.1 278.1,116.1 278.6,116.1 279.1,116.1 279.6,116.1 280.2,116.1 280.7,116.1 281.2,116.1 281.7,116.1 282.2,116.1 282.7,116.1 283.2,116.1 283.7,116.1 284.2,116.1 284.8,116.1 285.3,116.0 285.8,116.0 286.3,116.0 286.8,115.9 287.3,115.9 287.8,115.9 288.3,115.8 288.8,115.8 289.3,115.7 289.8,115.7 290.4,115.7 290.9,115.6 291.4,115.6 291.9,115.5 292.4,115.5 292.9,115.4 293.4,115.4 293.9,115.3 294.4,115.3 294.9,115.2 295.5,115.1 296.0,115.1 296.5,115.0 297.0,114.9 297.5,114.9 298.0,114.8 298.5,114.7 299.0,114.7 299.5,114.6 300.0,114.5 300.6,114.5 301.1,114.4 301.6,114.4 302.1,114.3 302.6,114.3 303.1,114.2 303.6,114.2 304.1,114.1 304.6,114.1 305.1,114.0 305.7,114.0 306.2,113.9 306.7,113.8 307.2,113.8 307.7,113.7 308.2,113.6 308.7,113.5 309.2,113.5 309.7,113.4 310.2,113.2 310.8,113.1 311.3,112.9 311.8,112.8 312.3,112.6 312.8,112.4 313.3,112.2 313.8,112.0 314.3,111.8 314.8,111.6 315.3,111.4 315.9,111.1 316.4,110.9 316.9,110.6 317.4,110.3 317.9,110.0 318.4,109.6 318.9,109.3 319.4,109.0 319.9,108.6 320.4,108.3 321.0,107.9 321.5,107.5 322.0,107.0 322.5,106.6 323.0,106.1 323.5,105.6 324.0,105.0 324.5,104.4 325.0,103.8 325.5,103.1 326.1,102.4 326.6,101.7 327.1,101.0 327.6,100.2 328.1,99.4 328.6,98.6 329.1,97.7 329.6,96.9 330.1,96.0 330.6,95.1 331.2,94.2 331.7,93.2 332.2,92.2 332.7,91.1 333.2,90.1 333.7,89.0 334.2,87.9 334.7,86.7 335.2,85.6 335.8,84.4 336.3,83.3 336.8,82.0 337.3,80.8 337.8,79.5 338.3,78.1 338.8,76.6 339.3,75.0 339.8,73.2 340.3,71.4 340.8,69.4 341.4,67.5 341.9,65.6 342.4,63.8 342.9,62.1 343.4,60.4 343.9,58.6 344.4,56.9 344.9,55.1 345.4,53.4 345.9,51.5 346.5,49.7 347.0,47.9 347.5,46.0 348.0,44.2 348.5,42.3 349.0,40.4 349.5,38.5 350.0,36.5 350.5,34.4 351.0,32.3 351.6,30.6 352.1,29.4 352.6,28.5 353.1,27.7 353.6,27.2 354.1,27.1 354.6,27.8 355.1,28.9 355.6,31.0 356.1,34.7 356.7,38.4 357.2,42.4 357.7,46.6 358.2,51.3 358.7,56.6 359.2,62.0 359.7,66.8 360.2,71.3 360.7,75.7 361.2,80.1 361.8,84.6 362.3,89.2 362.8,93.5 363.3,97.3 363.8,100.7 364.3,103.6 364.8,106.0 365.3,108.1 365.8,109.8 366.3,111.1 366.9,112.0 367.4,112.9 367.9,113.6 368.4,114.1 368.9,114.5 369.4,114.8 369.9,115.1 370.4,115.4 370.9,115.6 371.4,115.8 372.0,115.9 372.5,116.0 373.0,116.1 373.5,116.2 374.0,116.2 374.5,116.3 375.0,116.4 375.5,116.4 376.0,116.4 376.5,116.5 377.1,116.5 377.6,116.6 378.1,116.6 378.6,116.6 379.1,116.6 379.6,116.6 380.1,116.6 380.6,116.6 381.1,116.7 381.6,116.7 382.2,116.7 382.7,116.7 383.2,116.7 383.7,116.7 384.2,116.7 384.7,116.7 385.2,116.7 385.7,116.7 386.2,116.7 386.8,116.7 387.3,116.7 387.8,116.7 388.3,116.7 388.8,116.7 389.3,116.7 389.8,116.7 390.3,116.7 390.8,116.7 391.3,116.7 391.8,116.7 392.4,116.7 392.9,116.7 393.4,116.7 393.9,116.7 394.4,116.7 394.9,116.7 395.4,116.7 395.9,116.7 396.4,116.7 396.9,116.7 397.5,116.7 398.0,116.7 398.5,116.7 399.0,116.7 399.5,116.7 400.0,116.7 400.5,116.7 401.0,116.7 401.5,116.7 402.0,116.7 402.6,116.7 403.1,116.7 403.6,116.7 404.1,116.7 404.6,116.7 405.1,116.7 405.6,116.7 406.1,116.7 406.6,116.7 407.1,116.7 407.7,116.7 408.2,116.7 408.7,116.7 409.2,116.7 409.7,116.7" fill="none" stroke="#111" stroke-width="1.25" stroke-dasharray="1 1.7"/>
<path d="M266.9,115.4 267.4,115.4 267.9,115.5 268.4,115.5 268.9,115.5 269.4,115.6 270.0,115.6 270.5,115.6 271.0,115.7 271.5,115.7 272.0,115.7 272.5,115.8 273.0,115.8 273.5,115.9 274.0,115.9 274.5,115.9 275.1,116.0 275.6,116.0 276.1,116.0 276.6,116.1 277.1,116.1 277.6,116.1 278.1,116.1 278.6,116.1 279.1,116.1 279.6,116.1 280.2,116.1 280.7,116.1 281.2,116.1 281.7,116.1 282.2,116.1 282.7,116.1 283.2,116.1 283.7,116.1 284.2,116.1 284.8,116.0 285.3,116.0 285.8,116.0 286.3,116.0 286.8,115.9 287.3,115.9 287.8,115.9 288.3,115.8 288.8,115.8 289.3,115.7 289.8,115.7 290.4,115.7 290.9,115.6 291.4,115.6 291.9,115.5 292.4,115.5 292.9,115.4 293.4,115.4 293.9,115.3 294.4,115.3 294.9,115.2 295.5,115.1 296.0,115.1 296.5,115.0 297.0,114.9 297.5,114.9 298.0,114.8 298.5,114.7 299.0,114.7 299.5,114.6 300.0,114.5 300.6,114.5 301.1,114.4 301.6,114.4 302.1,114.3 302.6,114.3 303.1,114.2 303.6,114.1 304.1,114.1 304.6,114.0 305.1,114.0 305.7,113.9 306.2,113.9 306.7,113.8 307.2,113.7 307.7,113.7 308.2,113.6 308.7,113.5 309.2,113.4 309.7,113.3 310.2,113.2 310.8,113.0 311.3,112.9 311.8,112.7 312.3,112.5 312.8,112.4 313.3,112.2 313.8,112.0 314.3,111.7 314.8,111.5 315.3,111.3 315.9,111.0 316.4,110.8 316.9,110.5 317.4,110.2 317.9,109.9 318.4,109.5 318.9,109.2 319.4,108.8 319.9,108.5 320.4,108.1 321.0,107.8 321.5,107.4 322.0,106.9 322.5,106.5 323.0,106.0 323.5,105.5 324.0,104.9 324.5,104.3 325.0,103.7 325.5,103.0 326.1,102.3 326.6,101.6 327.1,100.8 327.6,100.0 328.1,99.2 328.6,98.4 329.1,97.5 329.6,96.6 330.1,95.8 330.6,94.8 331.2,93.9 331.7,92.9 332.2,91.9 332.7,90.8 333.2,89.7 333.7,88.6 334.2,87.4 334.7,86.2 335.2,85.1 335.8,83.9 336.3,82.7 336.8,81.4 337.3,80.1 337.8,78.7 338.3,77.3 338.8,75.8 339.3,74.1 339.8,72.3 340.3,70.3 340.8,68.3 341.4,66.3 341.9,64.4 342.4,62.5 342.9,60.7 343.4,58.9 343.9,57.1 344.4,55.4 344.9,53.6 345.4,51.8 345.9,50.0 346.5,48.2 347.0,46.4 347.5,44.5 348.0,42.6 348.5,40.8 349.0,38.9 349.5,37.0 350.0,35.0 350.5,32.8 351.0,30.7 351.6,29.0 352.1,27.8 352.6,26.8 353.1,26.0 353.6,25.5 354.1,25.4 354.6,26.1 355.1,27.3 355.6,29.5 356.1,33.3 356.7,37.1 357.2,41.2 357.7,45.6 358.2,50.4 358.7,55.9 359.2,61.5 359.7,66.4 360.2,71.0 360.7,75.4 361.2,79.8 361.8,84.3 362.3,88.8 362.8,93.2 363.3,97.0 363.8,100.4 364.3,103.4 364.8,105.8 365.3,108.0 365.8,109.7 366.3,111.0 366.9,112.0 367.4,112.8 367.9,113.5 368.4,114.1 368.9,114.5 369.4,114.8 369.9,115.1 370.4,115.3 370.9,115.6 371.4,115.7 372.0,115.9 372.5,116.0 373.0,116.1 373.5,116.2 374.0,116.2 374.5,116.3 375.0,116.3 375.5,116.4 376.0,116.4 376.5,116.5 377.1,116.5 377.6,116.5 378.1,116.6 378.6,116.6 379.1,116.6 379.6,116.6 380.1,116.6 380.6,116.6 381.1,116.7 381.6,116.7 382.2,116.7 382.7,116.7 383.2,116.7 383.7,116.7 384.2,116.7 384.7,116.7 385.2,116.7 385.7,116.7 386.2,116.7 386.8,116.7 387.3,116.7 387.8,116.7 388.3,116.7 388.8,116.7 389.3,116.7 389.8,116.7 390.3,116.7 390.8,116.7 391.3,116.7 391.8,116.7 392.4,116.7 392.9,116.7 393.4,116.7 393.9,116.7 394.4,116.7 394.9,116.7 395.4,116.7 395.9,116.7 396.4,116.7 396.9,116.7 397.5,116.7 398.0,116.7 398.5,116.7 399.0,116.7 399.5,116.7 400.0,116.7 400.5,116.7 401.0,116.7 401.5,116.7 402.0,116.7 402.6,116.7 403.1,116.7 403.6,116.7 404.1,116.7 404.6,116.7 405.1,116.7 405.6,116.7 406.1,116.7 406.6,116.7 407.1,116.7 407.7,116.7 408.2,116.7 408.7,116.7 409.2,116.7 409.7,116.7" fill="none" stroke="#111" stroke-width="1.25" stroke-dasharray="3 1.8 1 2"/>
<path d="M500.4,21.11 V118.4 H647.90" fill="none" stroke="#333" stroke-width="1.15"/>
<path d="M496.10,118.40 H500.4" stroke="#333" stroke-width="1.15"/>
<text x="495.10" y="121.00" class="yl">0.00</text>
<path d="M496.10,109.56 H500.4" stroke="#333" stroke-width="1.15"/>
<text x="495.10" y="112.16" class="yl">0.25</text>
<path d="M496.10,100.71 H500.4" stroke="#333" stroke-width="1.15"/>
<text x="495.10" y="103.31" class="yl">0.50</text>
<path d="M496.10,91.87 H500.4" stroke="#333" stroke-width="1.15"/>
<text x="495.10" y="94.47" class="yl">0.75</text>
<path d="M496.10,83.02 H500.4" stroke="#333" stroke-width="1.15"/>
<text x="495.10" y="85.62" class="yl">1.00</text>
<path d="M496.10,74.18 H500.4" stroke="#333" stroke-width="1.15"/>
<text x="495.10" y="76.78" class="yl">1.25</text>
<path d="M496.10,65.33 H500.4" stroke="#333" stroke-width="1.15"/>
<text x="495.10" y="67.93" class="yl">1.50</text>
<path d="M496.10,56.48 H500.4" stroke="#333" stroke-width="1.15"/>
<text x="495.10" y="59.09" class="yl">1.75</text>
<path d="M496.10,47.64 H500.4" stroke="#333" stroke-width="1.15"/>
<text x="495.10" y="50.24" class="yl">2.00</text>
<path d="M496.10,38.80 H500.4" stroke="#333" stroke-width="1.15"/>
<text x="495.10" y="41.40" class="yl">2.25</text>
<path d="M496.10,29.95 H500.4" stroke="#333" stroke-width="1.15"/>
<text x="495.10" y="32.55" class="yl">2.50</text>
<path d="M496.10,21.11 H500.4" stroke="#333" stroke-width="1.15"/>
<text x="495.10" y="23.71" class="yl">2.75</text>
<path d="M502.30,118.4 V122.70" stroke="#333" stroke-width="1.15"/>
<text x="505.20" y="129.90" class="xl" transform="rotate(-45 505.20 129.90)">380</text>
<path d="M512.50,118.4 V122.70" stroke="#333" stroke-width="1.15"/>
<text x="515.40" y="129.90" class="xl" transform="rotate(-45 515.40 129.90)">410</text>
<path d="M522.70,118.4 V122.70" stroke="#333" stroke-width="1.15"/>
<text x="525.60" y="129.90" class="xl" transform="rotate(-45 525.60 129.90)">440</text>
<path d="M532.90,118.4 V122.70" stroke="#333" stroke-width="1.15"/>
<text x="535.80" y="129.90" class="xl" transform="rotate(-45 535.80 129.90)">470</text>
<path d="M543.10,118.4 V122.70" stroke="#333" stroke-width="1.15"/>
<text x="546.00" y="129.90" class="xl" transform="rotate(-45 546.00 129.90)">500</text>
<path d="M553.30,118.4 V122.70" stroke="#333" stroke-width="1.15"/>
<text x="556.20" y="129.90" class="xl" transform="rotate(-45 556.20 129.90)">530</text>
<path d="M563.50,118.4 V122.70" stroke="#333" stroke-width="1.15"/>
<text x="566.40" y="129.90" class="xl" transform="rotate(-45 566.40 129.90)">560</text>
<path d="M573.70,118.4 V122.70" stroke="#333" stroke-width="1.15"/>
<text x="576.60" y="129.90" class="xl" transform="rotate(-45 576.60 129.90)">590</text>
<path d="M583.90,118.4 V122.70" stroke="#333" stroke-width="1.15"/>
<text x="586.80" y="129.90" class="xl" transform="rotate(-45 586.80 129.90)">620</text>
<path d="M594.10,118.4 V122.70" stroke="#333" stroke-width="1.15"/>
<text x="597.00" y="129.90" class="xl" transform="rotate(-45 597.00 129.90)">650</text>
<path d="M604.30,118.4 V122.70" stroke="#333" stroke-width="1.15"/>
<text x="607.20" y="129.90" class="xl" transform="rotate(-45 607.20 129.90)">680</text>
<path d="M614.50,118.4 V122.70" stroke="#333" stroke-width="1.15"/>
<text x="617.40" y="129.90" class="xl" transform="rotate(-45 617.40 129.90)">710</text>
<path d="M624.70,118.4 V122.70" stroke="#333" stroke-width="1.15"/>
<text x="627.60" y="129.90" class="xl" transform="rotate(-45 627.60 129.90)">740</text>
<path d="M634.90,118.4 V122.70" stroke="#333" stroke-width="1.15"/>
<text x="637.80" y="129.90" class="xl" transform="rotate(-45 637.80 129.90)">770</text>
<path d="M645.10,118.4 V122.70" stroke="#333" stroke-width="1.15"/>
<text x="648.00" y="129.90" class="xl" transform="rotate(-45 648.00 129.90)">800</text>
<text x="572.85" y="153.40" class="at">nm</text>
<text x="476.40" y="69.25" class="ab" transform="rotate(-90 476.40 69.25)">ABS</text>
<text x="573.55" y="8.21" class="ti">TBO</text>
<text x="465.4" y="11.7" class="le" font-size="14.0">C</text>
<path d="M642.8,27.61 H653.30" stroke="#111" stroke-width="1"/>
<text x="659.80" y="30.21" class="lg">1h</text>
<path d="M642.8,40.81 H653.30" stroke="#111" stroke-width="1" stroke-dasharray="3 1.8"/>
<text x="659.80" y="43.41" class="lg">2h</text>
<path d="M642.8,54.01 H653.30" stroke="#111" stroke-width="1" stroke-dasharray="1 1.7"/>
<text x="659.80" y="56.61" class="lg">3h</text>
<path d="M642.8,67.20 H653.30" stroke="#111" stroke-width="1" stroke-dasharray="3 1.8 1 2"/>
<text x="659.80" y="69.80" class="lg">4h</text>
<path d="M502.3,116.3 502.8,116.3 503.3,116.4 503.8,116.4 504.3,116.4 504.8,116.5 505.4,116.5 505.9,116.5 506.4,116.5 506.9,116.6 507.4,116.6 507.9,116.6 508.4,116.6 508.9,116.6 509.4,116.7 509.9,116.7 510.5,116.7 511.0,116.7 511.5,116.7 512.0,116.7 512.5,116.7 513.0,116.7 513.5,116.7 514.0,116.7 514.5,116.7 515.0,116.7 515.6,116.7 516.1,116.6 516.6,116.6 517.1,116.6 517.6,116.6 518.1,116.5 518.6,116.5 519.1,116.5 519.6,116.5 520.1,116.4 520.7,116.4 521.2,116.4 521.7,116.3 522.2,116.3 522.7,116.3 523.2,116.2 523.7,116.2 524.2,116.1 524.7,116.1 525.2,116.0 525.8,116.0 526.3,115.9 526.8,115.9 527.3,115.8 527.8,115.7 528.3,115.7 528.8,115.6 529.3,115.6 529.8,115.5 530.3,115.5 530.9,115.4 531.4,115.4 531.9,115.3 532.4,115.3 532.9,115.3 533.4,115.2 533.9,115.2 534.4,115.1 534.9,115.1 535.4,115.1 536.0,115.0 536.5,115.0 537.0,115.0 537.5,114.9 538.0,114.9 538.5,114.9 539.0,114.8 539.5,114.8 540.0,114.7 540.5,114.7 541.1,114.6 541.6,114.6 542.1,114.5 542.6,114.4 543.1,114.4 543.6,114.3 544.1,114.3 544.6,114.2 545.1,114.1 545.6,114.1 546.2,114.0 546.7,113.9 547.2,113.8 547.7,113.7 548.2,113.6 548.7,113.5 549.2,113.4 549.7,113.3 550.2,113.2 550.8,113.1 551.3,113.0 551.8,112.8 552.3,112.7 552.8,112.5 553.3,112.3 553.8,112.1 554.3,112.0 554.8,111.7 555.3,111.5 555.8,111.3 556.4,111.0 556.9,110.7 557.4,110.4 557.9,110.1 558.4,109.7 558.9,109.3 559.4,108.9 559.9,108.4 560.4,107.9 560.9,107.3 561.5,106.7 562.0,106.2 562.5,105.6 563.0,105.1 563.5,104.5 564.0,104.0 564.5,103.4 565.0,102.8 565.5,102.3 566.0,101.7 566.6,101.2 567.1,100.6 567.6,100.0 568.1,99.5 568.6,98.9 569.1,98.4 569.6,97.8 570.1,97.2 570.6,96.7 571.1,96.1 571.7,95.6 572.2,95.0 572.7,94.4 573.2,93.9 573.7,93.3 574.2,92.8 574.7,92.2 575.2,91.7 575.7,91.1 576.2,90.6 576.8,90.1 577.3,89.5 577.8,89.0 578.3,88.4 578.8,87.9 579.3,87.4 579.8,86.9 580.3,86.3 580.8,85.8 581.3,85.3 581.9,84.8 582.4,84.3 582.9,83.8 583.4,83.3 583.9,82.8 584.4,82.3 584.9,81.8 585.4,81.4 585.9,81.0 586.4,80.5 587.0,80.1 587.5,79.9 588.0,79.9 588.5,79.9 589.0,80.1 589.5,80.3 590.0,80.8 590.5,81.5 591.0,82.3 591.5,83.1 592.1,84.1 592.6,85.1 593.1,86.1 593.6,87.2 594.1,88.3 594.6,89.4 595.1,90.6 595.6,91.8 596.1,93.1 596.6,94.4 597.2,95.9 597.7,97.5 598.2,99.0 598.7,100.5 599.2,101.8 599.7,103.0 600.2,104.2 600.7,105.5 601.2,106.9 601.8,108.2 602.3,109.5 602.8,110.6 603.3,111.7 603.8,112.7 604.3,113.6 604.8,114.3 605.3,114.8 605.8,115.3 606.3,115.6 606.8,115.9 607.4,116.2 607.9,116.3 608.4,116.5 608.9,116.6 609.4,116.7 609.9,116.8 610.4,116.9 610.9,117.0 611.4,117.0 611.9,117.1 612.5,117.1 613.0,117.2 613.5,117.2 614.0,117.2 614.5,117.2 615.0,117.2 615.5,117.2 616.0,117.2 616.5,117.3 617.0,117.3 617.6,117.3 618.1,117.3 618.6,117.3 619.1,117.3 619.6,117.3 620.1,117.3 620.6,117.3 621.1,117.3 621.6,117.3 622.1,117.3 622.7,117.3 623.2,117.3 623.7,117.3 624.2,117.3 624.7,117.3 625.2,117.3 625.7,117.3 626.2,117.3 626.7,117.3 627.2,117.3 627.8,117.3 628.3,117.3 628.8,117.3 629.3,117.3 629.8,117.3 630.3,117.3 630.8,117.3 631.3,117.3 631.8,117.3 632.3,117.3 632.9,117.3 633.4,117.3 633.9,117.3 634.4,117.3 634.9,117.3 635.4,117.3 635.9,117.3 636.4,117.3 636.9,117.3 637.4,117.3 638.0,117.3 638.5,117.3 639.0,117.3 639.5,117.3 640.0,117.3 640.5,117.3 641.0,117.3 641.5,117.3 642.0,117.3 642.5,117.3 643.1,117.3 643.6,117.3 644.1,117.3 644.6,117.3 645.1,117.3" fill="none" stroke="#111" stroke-width="1.25"/>
<path d="M502.3,116.2 502.8,116.3 503.3,116.3 503.8,116.3 504.3,116.4 504.8,116.4 505.4,116.4 505.9,116.5 506.4,116.5 506.9,116.5 507.4,116.6 507.9,116.6 508.4,116.6 508.9,116.6 509.4,116.6 509.9,116.6 510.5,116.6 511.0,116.7 511.5,116.7 512.0,116.7 512.5,116.7 513.0,116.7 513.5,116.7 514.0,116.7 514.5,116.7 515.0,116.6 515.6,116.6 516.1,116.6 516.6,116.6 517.1,116.6 517.6,116.5 518.1,116.5 518.6,116.5 519.1,116.4 519.6,116.4 520.1,116.4 520.7,116.3 521.2,116.3 521.7,116.3 522.2,116.2 522.7,116.2 523.2,116.1 523.7,116.1 524.2,116.0 524.7,116.0 525.2,115.9 525.8,115.9 526.3,115.8 526.8,115.8 527.3,115.7 527.8,115.6 528.3,115.6 528.8,115.5 529.3,115.4 529.8,115.4 530.3,115.3 530.9,115.3 531.4,115.2 531.9,115.2 532.4,115.1 532.9,115.1 533.4,115.1 533.9,115.0 534.4,115.0 534.9,114.9 535.4,114.9 536.0,114.9 536.5,114.8 537.0,114.8 537.5,114.7 538.0,114.7 538.5,114.7 539.0,114.6 539.5,114.6 540.0,114.5 540.5,114.4 541.1,114.4 541.6,114.3 542.1,114.3 542.6,114.2 543.1,114.2 543.6,114.1 544.1,114.0 544.6,113.9 545.1,113.9 545.6,113.8 546.2,113.7 546.7,113.6 547.2,113.5 547.7,113.5 548.2,113.4 548.7,113.3 549.2,113.2 549.7,113.0 550.2,112.9 550.8,112.8 551.3,112.6 551.8,112.5 552.3,112.3 552.8,112.2 553.3,112.0 553.8,111.8 554.3,111.5 554.8,111.3 555.3,111.1 555.8,110.8 556.4,110.4 556.9,110.1 557.4,109.7 557.9,109.2 558.4,108.8 558.9,108.3 559.4,107.9 559.9,107.3 560.4,106.7 560.9,106.1 561.5,105.5 562.0,104.9 562.5,104.3 563.0,103.6 563.5,103.0 564.0,102.3 564.5,101.6 565.0,101.0 565.5,100.3 566.0,99.6 566.6,98.9 567.1,98.2 567.6,97.5 568.1,96.8 568.6,96.1 569.1,95.4 569.6,94.8 570.1,94.1 570.6,93.4 571.1,92.8 571.7,92.1 572.2,91.5 572.7,90.8 573.2,90.2 573.7,89.5 574.2,88.9 574.7,88.2 575.2,87.6 575.7,87.0 576.2,86.3 576.8,85.7 577.3,85.1 577.8,84.4 578.3,83.8 578.8,83.2 579.3,82.5 579.8,81.9 580.3,81.3 580.8,80.7 581.3,80.1 581.9,79.5 582.4,79.0 582.9,78.4 583.4,77.9 583.9,77.4 584.4,76.8 584.9,76.4 585.4,75.9 585.9,75.4 586.4,74.9 587.0,74.5 587.5,74.2 588.0,74.2 588.5,74.3 589.0,74.5 589.5,74.8 590.0,75.4 590.5,76.2 591.0,77.1 591.5,78.1 592.1,79.2 592.6,80.5 593.1,81.9 593.6,83.3 594.1,84.7 594.6,86.2 595.1,87.7 595.6,89.3 596.1,90.9 596.6,92.5 597.2,94.2 597.7,95.8 598.2,97.5 598.7,99.1 599.2,100.5 599.7,102.0 600.2,103.4 600.7,104.8 601.2,106.2 601.8,107.6 602.3,109.0 602.8,110.2 603.3,111.3 603.8,112.3 604.3,113.3 604.8,114.0 605.3,114.6 605.8,115.0 606.3,115.4 606.8,115.8 607.4,116.0 607.9,116.2 608.4,116.3 608.9,116.5 609.4,116.6 609.9,116.7 610.4,116.8 610.9,116.9 611.4,117.0 611.9,117.0 612.5,117.1 613.0,117.1 613.5,117.1 614.0,117.2 614.5,117.2 615.0,117.2 615.5,117.2 616.0,117.2 616.5,117.2 617.0,117.3 617.6,117.3 618.1,117.3 618.6,117.3 619.1,117.3 619.6,117.3 620.1,117.3 620.6,117.3 621.1,117.3 621.6,117.3 622.1,117.3 622.7,117.3 623.2,117.3 623.7,117.3 624.2,117.3 624.7,117.3 625.2,117.3 625.7,117.3 626.2,117.3 626.7,117.3 627.2,117.3 627.8,117.3 628.3,117.3 628.8,117.3 629.3,117.3 629.8,117.3 630.3,117.3 630.8,117.3 631.3,117.3 631.8,117.3 632.3,117.3 632.9,117.3 633.4,117.3 633.9,117.3 634.4,117.3 634.9,117.3 635.4,117.3 635.9,117.3 636.4,117.3 636.9,117.3 637.4,117.3 638.0,117.3 638.5,117.3 639.0,117.3 639.5,117.3 640.0,117.3 640.5,117.3 641.0,117.3 641.5,117.3 642.0,117.3 642.5,117.3 643.1,117.3 643.6,117.3 644.1,117.3 644.6,117.3 645.1,117.3" fill="none" stroke="#111" stroke-width="1.25" stroke-dasharray="3 1.8"/>
<path d="M502.3,116.1 502.8,116.2 503.3,116.2 503.8,116.3 504.3,116.3 504.8,116.4 505.4,116.4 505.9,116.4 506.4,116.5 506.9,116.5 507.4,116.5 507.9,116.5 508.4,116.6 508.9,116.6 509.4,116.6 509.9,116.6 510.5,116.6 511.0,116.6 511.5,116.6 512.0,116.6 512.5,116.6 513.0,116.6 513.5,116.6 514.0,116.6 514.5,116.6 515.0,116.6 515.6,116.6 516.1,116.6 516.6,116.5 517.1,116.5 517.6,116.5 518.1,116.5 518.6,116.4 519.1,116.4 519.6,116.3 520.1,116.3 520.7,116.3 521.2,116.2 521.7,116.2 522.2,116.1 522.7,116.1 523.2,116.1 523.7,116.0 524.2,116.0 524.7,115.9 525.2,115.8 525.8,115.8 526.3,115.7 526.8,115.7 527.3,115.6 527.8,115.5 528.3,115.5 528.8,115.4 529.3,115.3 529.8,115.3 530.3,115.2 530.9,115.1 531.4,115.1 531.9,115.0 532.4,115.0 532.9,114.9 533.4,114.9 533.9,114.9 534.4,114.8 534.9,114.8 535.4,114.7 536.0,114.7 536.5,114.6 537.0,114.6 537.5,114.6 538.0,114.5 538.5,114.5 539.0,114.4 539.5,114.4 540.0,114.3 540.5,114.2 541.1,114.2 541.6,114.1 542.1,114.1 542.6,114.0 543.1,113.9 543.6,113.9 544.1,113.8 544.6,113.7 545.1,113.6 545.6,113.6 546.2,113.5 546.7,113.4 547.2,113.3 547.7,113.2 548.2,113.1 548.7,113.0 549.2,112.9 549.7,112.8 550.2,112.6 550.8,112.5 551.3,112.3 551.8,112.2 552.3,112.0 552.8,111.8 553.3,111.6 553.8,111.4 554.3,111.2 554.8,110.9 555.3,110.6 555.8,110.3 556.4,109.9 556.9,109.5 557.4,109.0 557.9,108.5 558.4,107.9 558.9,107.4 559.4,106.9 559.9,106.3 560.4,105.6 560.9,105.0 561.5,104.3 562.0,103.6 562.5,102.9 563.0,102.2 563.5,101.5 564.0,100.7 564.5,100.0 565.0,99.2 565.5,98.3 566.0,97.5 566.6,96.7 567.1,95.9 567.6,95.0 568.1,94.2 568.6,93.4 569.1,92.7 569.6,91.9 570.1,91.1 570.6,90.4 571.1,89.6 571.7,88.9 572.2,88.1 572.7,87.4 573.2,86.6 573.7,85.9 574.2,85.2 574.7,84.4 575.2,83.7 575.7,83.0 576.2,82.2 576.8,81.5 577.3,80.8 577.8,80.1 578.3,79.4 578.8,78.7 579.3,77.9 579.8,77.2 580.3,76.5 580.8,75.8 581.3,75.2 581.9,74.5 582.4,73.9 582.9,73.3 583.4,72.8 583.9,72.2 584.4,71.7 584.9,71.2 585.4,70.7 585.9,70.1 586.4,69.6 587.0,69.1 587.5,68.8 588.0,68.8 588.5,69.0 589.0,69.2 589.5,69.6 590.0,70.2 590.5,71.1 591.0,72.1 591.5,73.3 592.1,74.6 592.6,76.2 593.1,77.8 593.6,79.5 594.1,81.3 594.6,83.0 595.1,84.9 595.6,86.9 596.1,88.8 596.6,90.6 597.2,92.5 597.7,94.3 598.2,96.0 598.7,97.7 599.2,99.4 599.7,101.0 600.2,102.5 600.7,104.1 601.2,105.6 601.8,107.1 602.3,108.5 602.8,109.7 603.3,110.9 603.8,112.0 604.3,113.0 604.8,113.7 605.3,114.3 605.8,114.8 606.3,115.2 606.8,115.6 607.4,115.9 607.9,116.1 608.4,116.2 608.9,116.4 609.4,116.5 609.9,116.6 610.4,116.7 610.9,116.8 611.4,116.9 611.9,117.0 612.5,117.0 613.0,117.1 613.5,117.1 614.0,117.1 614.5,117.1 615.0,117.2 615.5,117.2 616.0,117.2 616.5,117.2 617.0,117.2 617.6,117.3 618.1,117.3 618.6,117.3 619.1,117.3 619.6,117.3 620.1,117.3 620.6,117.3 621.1,117.3 621.6,117.3 622.1,117.3 622.7,117.3 623.2,117.3 623.7,117.3 624.2,117.3 624.7,117.3 625.2,117.3 625.7,117.3 626.2,117.3 626.7,117.3 627.2,117.3 627.8,117.3 628.3,117.3 628.8,117.3 629.3,117.3 629.8,117.3 630.3,117.3 630.8,117.3 631.3,117.3 631.8,117.3 632.3,117.3 632.9,117.3 633.4,117.3 633.9,117.3 634.4,117.3 634.9,117.3 635.4,117.3 635.9,117.3 636.4,117.3 636.9,117.3 637.4,117.3 638.0,117.3 638.5,117.3 639.0,117.3 639.5,117.3 640.0,117.3 640.5,117.3 641.0,117.3 641.5,117.3 642.0,117.3 642.5,117.3 643.1,117.3 643.6,117.3 644.1,117.3 644.6,117.3 645.1,117.3" fill="none" stroke="#111" stroke-width="1.25" stroke-dasharray="1 1.7"/>
<path d="M502.3,116.1 502.8,116.2 503.3,116.2 503.8,116.2 504.3,116.3 504.8,116.3 505.4,116.4 505.9,116.4 506.4,116.4 506.9,116.5 507.4,116.5 507.9,116.5 508.4,116.5 508.9,116.6 509.4,116.6 509.9,116.6 510.5,116.6 511.0,116.6 511.5,116.6 512.0,116.6 512.5,116.6 513.0,116.6 513.5,116.6 514.0,116.6 514.5,116.6 515.0,116.6 515.6,116.6 516.1,116.6 516.6,116.5 517.1,116.5 517.6,116.5 518.1,116.4 518.6,116.4 519.1,116.4 519.6,116.3 520.1,116.3 520.7,116.2 521.2,116.2 521.7,116.2 522.2,116.1 522.7,116.1 523.2,116.0 523.7,116.0 524.2,115.9 524.7,115.9 525.2,115.8 525.8,115.7 526.3,115.7 526.8,115.6 527.3,115.5 527.8,115.5 528.3,115.4 528.8,115.3 529.3,115.3 529.8,115.2 530.3,115.1 530.9,115.1 531.4,115.0 531.9,115.0 532.4,114.9 532.9,114.9 533.4,114.8 533.9,114.8 534.4,114.7 534.9,114.7 535.4,114.6 536.0,114.6 536.5,114.6 537.0,114.5 537.5,114.5 538.0,114.4 538.5,114.4 539.0,114.3 539.5,114.3 540.0,114.2 540.5,114.1 541.1,114.1 541.6,114.0 542.1,113.9 542.6,113.9 543.1,113.8 543.6,113.7 544.1,113.7 544.6,113.6 545.1,113.5 545.6,113.4 546.2,113.3 546.7,113.3 547.2,113.2 547.7,113.1 548.2,113.0 548.7,112.9 549.2,112.7 549.7,112.6 550.2,112.5 550.8,112.3 551.3,112.2 551.8,112.0 552.3,111.8 552.8,111.6 553.3,111.4 553.8,111.2 554.3,111.0 554.8,110.7 555.3,110.4 555.8,110.0 556.4,109.6 556.9,109.1 557.4,108.6 557.9,108.1 558.4,107.5 558.9,106.9 559.4,106.3 559.9,105.7 560.4,105.1 560.9,104.4 561.5,103.7 562.0,103.0 562.5,102.3 563.0,101.5 563.5,100.7 564.0,99.9 564.5,99.1 565.0,98.2 565.5,97.3 566.0,96.5 566.6,95.6 567.1,94.7 567.6,93.8 568.1,92.9 568.6,92.1 569.1,91.2 569.6,90.4 570.1,89.6 570.6,88.8 571.1,88.0 571.7,87.2 572.2,86.4 572.7,85.6 573.2,84.8 573.7,84.0 574.2,83.3 574.7,82.5 575.2,81.7 575.7,80.9 576.2,80.2 576.8,79.4 577.3,78.6 577.8,77.9 578.3,77.1 578.8,76.3 579.3,75.6 579.8,74.8 580.3,74.0 580.8,73.3 581.3,72.6 581.9,72.0 582.4,71.3 582.9,70.7 583.4,70.1 583.9,69.6 584.4,69.0 584.9,68.5 585.4,68.0 585.9,67.4 586.4,66.9 587.0,66.4 587.5,66.1 588.0,66.1 588.5,66.2 589.0,66.5 589.5,66.9 590.0,67.6 590.5,68.5 591.0,69.6 591.5,70.8 592.1,72.3 592.6,74.0 593.1,75.8 593.6,77.6 594.1,79.5 594.6,81.4 595.1,83.5 595.6,85.6 596.1,87.7 596.6,89.7 597.2,91.6 597.7,93.5 598.2,95.3 598.7,97.1 599.2,98.8 599.7,100.5 600.2,102.1 600.7,103.7 601.2,105.3 601.8,106.8 602.3,108.2 602.8,109.5 603.3,110.7 603.8,111.8 604.3,112.8 604.8,113.6 605.3,114.2 605.8,114.7 606.3,115.1 606.8,115.5 607.4,115.8 607.9,116.0 608.4,116.2 608.9,116.3 609.4,116.4 609.9,116.6 610.4,116.7 610.9,116.8 611.4,116.9 611.9,116.9 612.5,117.0 613.0,117.0 613.5,117.1 614.0,117.1 614.5,117.1 615.0,117.1 615.5,117.2 616.0,117.2 616.5,117.2 617.0,117.2 617.6,117.2 618.1,117.3 618.6,117.3 619.1,117.3 619.6,117.3 620.1,117.3 620.6,117.3 621.1,117.3 621.6,117.3 622.1,117.3 622.7,117.3 623.2,117.3 623.7,117.3 624.2,117.3 624.7,117.3 625.2,117.3 625.7,117.3 626.2,117.3 626.7,117.3 627.2,117.3 627.8,117.3 628.3,117.3 628.8,117.3 629.3,117.3 629.8,117.3 630.3,117.3 630.8,117.3 631.3,117.3 631.8,117.3 632.3,117.3 632.9,117.3 633.4,117.3 633.9,117.3 634.4,117.3 634.9,117.3 635.4,117.3 635.9,117.3 636.4,117.3 636.9,117.3 637.4,117.3 638.0,117.3 638.5,117.3 639.0,117.3 639.5,117.3 640.0,117.3 640.5,117.3 641.0,117.3 641.5,117.3 642.0,117.3 642.5,117.3 643.1,117.3 643.6,117.3 644.1,117.3 644.6,117.3 645.1,117.3" fill="none" stroke="#111" stroke-width="1.25" stroke-dasharray="3 1.8 1 2"/>
<path d="M33.0,194.10 V291.4 H180.50" fill="none" stroke="#333" stroke-width="1.15"/>
<path d="M28.70,291.40 H33.0" stroke="#333" stroke-width="1.15"/>
<text x="27.70" y="294.00" class="yl">0.00</text>
<path d="M28.70,282.55 H33.0" stroke="#333" stroke-width="1.15"/>
<text x="27.70" y="285.15" class="yl">0.25</text>
<path d="M28.70,273.71 H33.0" stroke="#333" stroke-width="1.15"/>
<text x="27.70" y="276.31" class="yl">0.50</text>
<path d="M28.70,264.86 H33.0" stroke="#333" stroke-width="1.15"/>
<text x="27.70" y="267.46" class="yl">0.75</text>
<path d="M28.70,256.02 H33.0" stroke="#333" stroke-width="1.15"/>
<text x="27.70" y="258.62" class="yl">1.00</text>
<path d="M28.70,247.17 H33.0" stroke="#333" stroke-width="1.15"/>
<text x="27.70" y="249.77" class="yl">1.25</text>
<path d="M28.70,238.33 H33.0" stroke="#333" stroke-width="1.15"/>
<text x="27.70" y="240.93" class="yl">1.50</text>
<path d="M28.70,229.48 H33.0" stroke="#333" stroke-width="1.15"/>
<text x="27.70" y="232.08" class="yl">1.75</text>
<path d="M28.70,220.64 H33.0" stroke="#333" stroke-width="1.15"/>
<text x="27.70" y="223.24" class="yl">2.00</text>
<path d="M28.70,211.79 H33.0" stroke="#333" stroke-width="1.15"/>
<text x="27.70" y="214.39" class="yl">2.25</text>
<path d="M28.70,202.95 H33.0" stroke="#333" stroke-width="1.15"/>
<text x="27.70" y="205.55" class="yl">2.50</text>
<path d="M28.70,194.10 H33.0" stroke="#333" stroke-width="1.15"/>
<text x="27.70" y="196.70" class="yl">2.75</text>
<path d="M34.90,291.4 V295.70" stroke="#333" stroke-width="1.15"/>
<text x="37.80" y="302.90" class="xl" transform="rotate(-45 37.80 302.90)">380</text>
<path d="M45.10,291.4 V295.70" stroke="#333" stroke-width="1.15"/>
<text x="48.00" y="302.90" class="xl" transform="rotate(-45 48.00 302.90)">410</text>
<path d="M55.30,291.4 V295.70" stroke="#333" stroke-width="1.15"/>
<text x="58.20" y="302.90" class="xl" transform="rotate(-45 58.20 302.90)">440</text>
<path d="M65.50,291.4 V295.70" stroke="#333" stroke-width="1.15"/>
<text x="68.40" y="302.90" class="xl" transform="rotate(-45 68.40 302.90)">470</text>
<path d="M75.70,291.4 V295.70" stroke="#333" stroke-width="1.15"/>
<text x="78.60" y="302.90" class="xl" transform="rotate(-45 78.60 302.90)">500</text>
<path d="M85.90,291.4 V295.70" stroke="#333" stroke-width="1.15"/>
<text x="88.80" y="302.90" class="xl" transform="rotate(-45 88.80 302.90)">530</text>
<path d="M96.10,291.4 V295.70" stroke="#333" stroke-width="1.15"/>
<text x="99.00" y="302.90" class="xl" transform="rotate(-45 99.00 302.90)">560</text>
<path d="M106.30,291.4 V295.70" stroke="#333" stroke-width="1.15"/>
<text x="109.20" y="302.90" class="xl" transform="rotate(-45 109.20 302.90)">590</text>
<path d="M116.50,291.4 V295.70" stroke="#333" stroke-width="1.15"/>
<text x="119.40" y="302.90" class="xl" transform="rotate(-45 119.40 302.90)">620</text>
<path d="M126.70,291.4 V295.70" stroke="#333" stroke-width="1.15"/>
<text x="129.60" y="302.90" class="xl" transform="rotate(-45 129.60 302.90)">650</text>
<path d="M136.90,291.4 V295.70" stroke="#333" stroke-width="1.15"/>
<text x="139.80" y="302.90" class="xl" transform="rotate(-45 139.80 302.90)">680</text>
<path d="M147.10,291.4 V295.70" stroke="#333" stroke-width="1.15"/>
<text x="150.00" y="302.90" class="xl" transform="rotate(-45 150.00 302.90)">710</text>
<path d="M157.30,291.4 V295.70" stroke="#333" stroke-width="1.15"/>
<text x="160.20" y="302.90" class="xl" transform="rotate(-45 160.20 302.90)">740</text>
<path d="M167.50,291.4 V295.70" stroke="#333" stroke-width="1.15"/>
<text x="170.40" y="302.90" class="xl" transform="rotate(-45 170.40 302.90)">770</text>
<path d="M177.70,291.4 V295.70" stroke="#333" stroke-width="1.15"/>
<text x="180.60" y="302.90" class="xl" transform="rotate(-45 180.60 302.90)">800</text>
<text x="105.45" y="326.40" class="at">nm</text>
<text x="9.00" y="242.25" class="ab" transform="rotate(-90 9.00 242.25)">ABS</text>
<text x="106.15" y="181.20" class="ti">DMMB</text>
<text x="1.1" y="183.1" class="le" font-size="13.6">D</text>
<path d="M177.3,200.60 H187.80" stroke="#111" stroke-width="1"/>
<text x="194.30" y="203.20" class="lg">1h</text>
<path d="M177.3,213.80 H187.80" stroke="#111" stroke-width="1" stroke-dasharray="3 1.8"/>
<text x="194.30" y="216.40" class="lg">2h</text>
<path d="M177.3,227.00 H187.80" stroke="#111" stroke-width="1" stroke-dasharray="1 1.7"/>
<text x="194.30" y="229.60" class="lg">3h</text>
<path d="M177.3,240.20 H187.80" stroke="#111" stroke-width="1" stroke-dasharray="3 1.8 1 2"/>
<text x="194.30" y="242.80" class="lg">4h</text>
<path d="M34.9,287.5 35.4,287.5 35.9,287.5 36.4,287.5 36.9,287.6 37.4,287.6 38.0,287.6 38.5,287.6 39.0,287.6 39.5,287.6 40.0,287.6 40.5,287.6 41.0,287.7 41.5,287.7 42.0,287.7 42.5,287.7 43.1,287.7 43.6,287.8 44.1,287.8 44.6,287.8 45.1,287.8 45.6,287.9 46.1,287.9 46.6,287.9 47.1,287.9 47.6,287.9 48.2,287.9 48.7,287.9 49.2,287.9 49.7,287.9 50.2,287.9 50.7,287.9 51.2,287.9 51.7,287.9 52.2,287.9 52.8,287.9 53.3,287.9 53.8,287.9 54.3,287.9 54.8,287.9 55.3,287.9 55.8,287.9 56.3,287.9 56.8,287.8 57.3,287.8 57.8,287.8 58.4,287.8 58.9,287.7 59.4,287.7 59.9,287.6 60.4,287.6 60.9,287.5 61.4,287.5 61.9,287.4 62.4,287.4 62.9,287.3 63.5,287.3 64.0,287.2 64.5,287.2 65.0,287.1 65.5,287.1 66.0,287.0 66.5,287.0 67.0,286.9 67.5,286.9 68.0,286.8 68.6,286.8 69.1,286.7 69.6,286.6 70.1,286.6 70.6,286.5 71.1,286.4 71.6,286.4 72.1,286.3 72.6,286.3 73.2,286.2 73.7,286.1 74.2,286.1 74.7,286.0 75.2,286.0 75.7,285.9 76.2,285.9 76.7,285.8 77.2,285.8 77.7,285.7 78.2,285.7 78.8,285.7 79.3,285.6 79.8,285.6 80.3,285.5 80.8,285.4 81.3,285.4 81.8,285.3 82.3,285.2 82.8,285.1 83.3,285.0 83.9,284.8 84.4,284.5 84.9,284.2 85.4,283.9 85.9,283.6 86.4,283.3 86.9,283.1 87.4,282.8 87.9,282.5 88.4,282.2 89.0,281.9 89.5,281.6 90.0,281.3 90.5,280.9 91.0,280.6 91.5,280.2 92.0,279.8 92.5,279.4 93.0,279.0 93.5,278.6 94.1,278.2 94.6,277.8 95.1,277.4 95.6,277.0 96.1,276.5 96.6,276.1 97.1,275.7 97.6,275.2 98.1,274.7 98.6,274.3 99.2,273.8 99.7,273.2 100.2,272.7 100.7,272.1 101.2,271.6 101.7,271.0 102.2,270.4 102.7,269.8 103.2,269.2 103.8,268.6 104.3,268.0 104.8,267.4 105.3,266.8 105.8,266.2 106.3,265.6 106.8,265.0 107.3,264.5 107.8,264.0 108.3,263.6 108.8,263.1 109.4,262.7 109.9,262.3 110.4,261.8 110.9,261.5 111.4,261.1 111.9,260.7 112.4,260.4 112.9,260.1 113.4,259.8 113.9,259.6 114.5,259.2 115.0,258.8 115.5,258.3 116.0,257.7 116.5,257.1 117.0,256.3 117.5,255.3 118.0,254.2 118.5,253.1 119.0,252.2 119.6,251.3 120.1,250.5 120.6,249.7 121.1,248.8 121.6,247.9 122.1,246.9 122.6,245.8 123.1,244.7 123.6,243.6 124.2,242.5 124.7,241.4 125.2,240.4 125.7,239.4 126.2,238.4 126.7,238.0 127.2,238.4 127.7,239.4 128.2,240.9 128.7,243.1 129.2,245.6 129.8,248.9 130.3,252.6 130.8,256.0 131.3,259.1 131.8,262.1 132.3,264.9 132.8,267.7 133.3,270.5 133.8,273.3 134.3,275.8 134.9,277.8 135.4,279.3 135.9,280.7 136.4,282.0 136.9,283.0 137.4,283.9 137.9,284.7 138.4,285.3 138.9,285.9 139.4,286.4 140.0,286.9 140.5,287.3 141.0,287.6 141.5,287.8 142.0,288.0 142.5,288.1 143.0,288.2 143.5,288.4 144.0,288.5 144.5,288.6 145.1,288.7 145.6,288.7 146.1,288.8 146.6,288.9 147.1,288.9 147.6,288.9 148.1,288.9 148.6,288.9 149.1,289.0 149.6,289.0 150.2,289.0 150.7,289.0 151.2,289.0 151.7,289.0 152.2,289.0 152.7,289.0 153.2,289.0 153.7,289.0 154.2,289.0 154.8,289.1 155.3,289.1 155.8,289.1 156.3,289.1 156.8,289.1 157.3,289.1 157.8,289.1 158.3,289.1 158.8,289.1 159.3,289.1 159.8,289.1 160.4,289.1 160.9,289.1 161.4,289.1 161.9,289.1 162.4,289.1 162.9,289.1 163.4,289.1 163.9,289.1 164.4,289.2 164.9,289.2 165.5,289.2 166.0,289.2 166.5,289.2 167.0,289.2 167.5,289.2 168.0,289.2 168.5,289.2 169.0,289.2 169.5,289.2 170.0,289.2 170.6,289.2 171.1,289.2 171.6,289.2 172.1,289.2 172.6,289.2 173.1,289.2 173.6,289.2 174.1,289.3 174.6,289.3 175.2,289.3 175.7,289.3 176.2,289.3 176.7,289.3 177.2,289.3 177.7,289.3" fill="none" stroke="#111" stroke-width="1.25"/>
<path d="M34.9,287.0 35.4,287.1 35.9,287.1 36.4,287.1 36.9,287.1 37.4,287.1 38.0,287.2 38.5,287.2 39.0,287.2 39.5,287.2 40.0,287.2 40.5,287.3 41.0,287.3 41.5,287.3 42.0,287.3 42.5,287.4 43.1,287.4 43.6,287.4 44.1,287.5 44.6,287.5 45.1,287.5 45.6,287.6 46.1,287.6 46.6,287.6 47.1,287.6 47.6,287.6 48.2,287.6 48.7,287.6 49.2,287.6 49.7,287.6 50.2,287.6 50.7,287.6 51.2,287.7 51.7,287.7 52.2,287.7 52.8,287.7 53.3,287.7 53.8,287.7 54.3,287.7 54.8,287.7 55.3,287.7 55.8,287.7 56.3,287.7 56.8,287.7 57.3,287.6 57.8,287.6 58.4,287.6 58.9,287.5 59.4,287.5 59.9,287.4 60.4,287.4 60.9,287.3 61.4,287.3 61.9,287.2 62.4,287.1 62.9,287.1 63.5,287.0 64.0,287.0 64.5,286.9 65.0,286.9 65.5,286.8 66.0,286.8 66.5,286.7 67.0,286.6 67.5,286.6 68.0,286.5 68.6,286.4 69.1,286.4 69.6,286.3 70.1,286.3 70.6,286.2 71.1,286.1 71.6,286.1 72.1,286.0 72.6,285.9 73.2,285.8 73.7,285.8 74.2,285.7 74.7,285.6 75.2,285.6 75.7,285.5 76.2,285.5 76.7,285.4 77.2,285.3 77.7,285.3 78.2,285.2 78.8,285.1 79.3,285.1 79.8,285.0 80.3,284.9 80.8,284.8 81.3,284.7 81.8,284.6 82.3,284.5 82.8,284.4 83.3,284.2 83.9,284.0 84.4,283.7 84.9,283.4 85.4,283.0 85.9,282.7 86.4,282.4 86.9,282.0 87.4,281.7 87.9,281.3 88.4,280.9 89.0,280.6 89.5,280.2 90.0,279.7 90.5,279.3 91.0,278.9 91.5,278.4 92.0,278.0 92.5,277.5 93.0,277.0 93.5,276.5 94.1,276.0 94.6,275.4 95.1,274.9 95.6,274.3 96.1,273.8 96.6,273.2 97.1,272.5 97.6,271.9 98.1,271.2 98.6,270.5 99.2,269.7 99.7,268.8 100.2,267.8 100.7,266.9 101.2,265.9 101.7,264.9 102.2,264.0 102.7,263.2 103.2,262.4 103.8,261.6 104.3,260.8 104.8,260.0 105.3,259.2 105.8,258.4 106.3,257.6 106.8,256.9 107.3,256.2 107.8,255.5 108.3,254.8 108.8,254.1 109.4,253.4 109.9,252.8 110.4,252.1 110.9,251.5 111.4,250.9 111.9,250.3 112.4,249.7 112.9,249.1 113.4,248.6 113.9,248.0 114.5,247.4 115.0,246.8 115.5,246.2 116.0,245.5 116.5,244.7 117.0,243.8 117.5,242.8 118.0,241.7 118.5,240.6 119.0,239.4 119.6,238.3 120.1,237.2 120.6,236.0 121.1,234.8 121.6,233.4 122.1,231.9 122.6,230.4 123.1,228.8 123.6,227.3 124.2,225.7 124.7,224.2 125.2,222.9 125.7,221.6 126.2,220.4 126.7,219.9 127.2,220.6 127.7,221.9 128.2,224.0 128.7,227.1 129.2,230.7 129.8,235.2 130.3,240.2 130.8,245.0 131.3,249.4 131.8,253.6 132.3,257.7 132.8,261.6 133.3,265.5 133.8,269.3 134.3,272.7 134.9,275.3 135.4,277.3 135.9,279.1 136.4,280.7 136.9,282.1 137.4,283.3 137.9,284.1 138.4,284.8 138.9,285.5 139.4,286.1 140.0,286.6 140.5,287.0 141.0,287.4 141.5,287.6 142.0,287.8 142.5,287.9 143.0,288.1 143.5,288.2 144.0,288.3 144.5,288.5 145.1,288.5 145.6,288.6 146.1,288.7 146.6,288.8 147.1,288.8 147.6,288.8 148.1,288.8 148.6,288.9 149.1,288.9 149.6,288.9 150.2,288.9 150.7,288.9 151.2,288.9 151.7,288.9 152.2,288.9 152.7,288.9 153.2,288.9 153.7,288.9 154.2,289.0 154.8,289.0 155.3,289.0 155.8,289.0 156.3,289.0 156.8,289.0 157.3,289.0 157.8,289.0 158.3,289.0 158.8,289.0 159.3,289.0 159.8,289.0 160.4,289.0 160.9,289.0 161.4,289.0 161.9,289.0 162.4,289.0 162.9,289.0 163.4,289.1 163.9,289.1 164.4,289.1 164.9,289.1 165.5,289.1 166.0,289.1 166.5,289.1 167.0,289.1 167.5,289.1 168.0,289.1 168.5,289.1 169.0,289.1 169.5,289.1 170.0,289.1 170.6,289.1 171.1,289.1 171.6,289.1 172.1,289.1 172.6,289.1 173.1,289.1 173.6,289.2 174.1,289.2 174.6,289.2 175.2,289.2 175.7,289.2 176.2,289.2 176.7,289.2 177.2,289.2 177.7,289.2" fill="none" stroke="#111" stroke-width="1.25" stroke-dasharray="3 1.8"/>
<path d="M34.9,286.8 35.4,286.8 35.9,286.9 36.4,286.9 36.9,286.9 37.4,286.9 38.0,286.9 38.5,287.0 39.0,287.0 39.5,287.0 40.0,287.0 40.5,287.1 41.0,287.1 41.5,287.1 42.0,287.2 42.5,287.2 43.1,287.2 43.6,287.3 44.1,287.3 44.6,287.3 45.1,287.4 45.6,287.4 46.1,287.4 46.6,287.5 47.1,287.5 47.6,287.5 48.2,287.5 48.7,287.5 49.2,287.5 49.7,287.5 50.2,287.5 50.7,287.5 51.2,287.5 51.7,287.6 52.2,287.6 52.8,287.6 53.3,287.6 53.8,287.6 54.3,287.6 54.8,287.6 55.3,287.6 55.8,287.6 56.3,287.6 56.8,287.6 57.3,287.5 57.8,287.5 58.4,287.5 58.9,287.4 59.4,287.4 59.9,287.3 60.4,287.3 60.9,287.2 61.4,287.1 61.9,287.1 62.4,287.0 62.9,287.0 63.5,286.9 64.0,286.8 64.5,286.8 65.0,286.7 65.5,286.7 66.0,286.6 66.5,286.5 67.0,286.5 67.5,286.4 68.0,286.4 68.6,286.3 69.1,286.2 69.6,286.2 70.1,286.1 70.6,286.0 71.1,286.0 71.6,285.9 72.1,285.8 72.6,285.7 73.2,285.7 73.7,285.6 74.2,285.5 74.7,285.4 75.2,285.4 75.7,285.3 76.2,285.2 76.7,285.2 77.2,285.1 77.7,285.0 78.2,285.0 78.8,284.9 79.3,284.8 79.8,284.7 80.3,284.6 80.8,284.5 81.3,284.4 81.8,284.3 82.3,284.2 82.8,284.0 83.3,283.9 83.9,283.6 84.4,283.3 84.9,283.0 85.4,282.6 85.9,282.2 86.4,281.9 86.9,281.5 87.4,281.1 87.9,280.7 88.4,280.3 89.0,279.9 89.5,279.4 90.0,279.0 90.5,278.5 91.0,278.1 91.5,277.6 92.0,277.1 92.5,276.5 93.0,276.0 93.5,275.4 94.1,274.8 94.6,274.3 95.1,273.6 95.6,273.0 96.1,272.4 96.6,271.7 97.1,271.0 97.6,270.2 98.1,269.4 98.6,268.6 99.2,267.6 99.7,266.6 100.2,265.4 100.7,264.2 101.2,263.0 101.7,261.9 102.2,260.8 102.7,259.9 103.2,258.9 103.8,258.0 104.3,257.1 104.8,256.2 105.3,255.4 105.8,254.5 106.3,253.7 106.8,252.8 107.3,252.0 107.8,251.2 108.3,250.4 108.8,249.6 109.4,248.8 109.9,248.1 110.4,247.3 110.9,246.5 111.4,245.8 111.9,245.1 112.4,244.3 112.9,243.6 113.4,242.9 113.9,242.2 114.5,241.6 115.0,240.9 115.5,240.1 116.0,239.4 116.5,238.5 117.0,237.6 117.5,236.6 118.0,235.4 118.5,234.3 119.0,233.1 119.6,231.8 120.1,230.6 120.6,229.2 121.1,227.8 121.6,226.2 122.1,224.4 122.6,222.7 123.1,220.9 123.6,219.2 124.2,217.3 124.7,215.6 125.2,214.1 125.7,212.7 126.2,211.5 126.7,210.9 127.2,211.6 127.7,213.2 128.2,215.6 128.7,219.2 129.2,223.2 129.8,228.3 130.3,234.0 130.8,239.5 131.3,244.5 131.8,249.4 132.3,254.1 132.8,258.6 133.3,263.0 133.8,267.3 134.3,271.1 134.9,274.1 135.4,276.3 135.9,278.3 136.4,280.1 136.9,281.7 137.4,282.9 137.9,283.8 138.4,284.6 138.9,285.3 139.4,285.9 140.0,286.4 140.5,286.9 141.0,287.3 141.5,287.5 142.0,287.7 142.5,287.9 143.0,288.0 143.5,288.2 144.0,288.3 144.5,288.4 145.1,288.5 145.6,288.6 146.1,288.7 146.6,288.7 147.1,288.8 147.6,288.8 148.1,288.8 148.6,288.8 149.1,288.8 149.6,288.8 150.2,288.8 150.7,288.9 151.2,288.9 151.7,288.9 152.2,288.9 152.7,288.9 153.2,288.9 153.7,288.9 154.2,288.9 154.8,288.9 155.3,288.9 155.8,288.9 156.3,288.9 156.8,288.9 157.3,288.9 157.8,288.9 158.3,288.9 158.8,289.0 159.3,289.0 159.8,289.0 160.4,289.0 160.9,289.0 161.4,289.0 161.9,289.0 162.4,289.0 162.9,289.0 163.4,289.0 163.9,289.0 164.4,289.0 164.9,289.0 165.5,289.0 166.0,289.0 166.5,289.0 167.0,289.0 167.5,289.1 168.0,289.1 168.5,289.1 169.0,289.1 169.5,289.1 170.0,289.1 170.6,289.1 171.1,289.1 171.6,289.1 172.1,289.1 172.6,289.1 173.1,289.1 173.6,289.1 174.1,289.1 174.6,289.1 175.2,289.1 175.7,289.1 176.2,289.1 176.7,289.1 177.2,289.1 177.7,289.1" fill="none" stroke="#111" stroke-width="1.25" stroke-dasharray="1 1.7"/>
<path d="M34.9,286.6 35.4,286.6 35.9,286.7 36.4,286.7 36.9,286.7 37.4,286.7 38.0,286.8 38.5,286.8 39.0,286.8 39.5,286.8 40.0,286.9 40.5,286.9 41.0,286.9 41.5,287.0 42.0,287.0 42.5,287.0 43.1,287.1 43.6,287.1 44.1,287.2 44.6,287.2 45.1,287.3 45.6,287.3 46.1,287.3 46.6,287.3 47.1,287.4 47.6,287.4 48.2,287.4 48.7,287.4 49.2,287.4 49.7,287.4 50.2,287.4 50.7,287.4 51.2,287.5 51.7,287.5 52.2,287.5 52.8,287.5 53.3,287.5 53.8,287.5 54.3,287.5 54.8,287.5 55.3,287.5 55.8,287.5 56.3,287.5 56.8,287.5 57.3,287.5 57.8,287.4 58.4,287.4 58.9,287.3 59.4,287.3 59.9,287.2 60.4,287.2 60.9,287.1 61.4,287.0 61.9,287.0 62.4,286.9 62.9,286.9 63.5,286.8 64.0,286.7 64.5,286.7 65.0,286.6 65.5,286.5 66.0,286.5 66.5,286.4 67.0,286.4 67.5,286.3 68.0,286.2 68.6,286.2 69.1,286.1 69.6,286.0 70.1,286.0 70.6,285.9 71.1,285.8 71.6,285.7 72.1,285.7 72.6,285.6 73.2,285.5 73.7,285.4 74.2,285.4 74.7,285.3 75.2,285.2 75.7,285.1 76.2,285.1 76.7,285.0 77.2,284.9 77.7,284.8 78.2,284.8 78.8,284.7 79.3,284.6 79.8,284.5 80.3,284.4 80.8,284.3 81.3,284.1 81.8,284.0 82.3,283.9 82.8,283.7 83.3,283.6 83.9,283.3 84.4,283.0 84.9,282.6 85.4,282.2 85.9,281.8 86.4,281.5 86.9,281.1 87.4,280.6 87.9,280.2 88.4,279.8 89.0,279.3 89.5,278.8 90.0,278.3 90.5,277.9 91.0,277.3 91.5,276.8 92.0,276.3 92.5,275.7 93.0,275.1 93.5,274.5 94.1,273.9 94.6,273.3 95.1,272.6 95.6,271.9 96.1,271.2 96.6,270.4 97.1,269.7 97.6,268.8 98.1,268.0 98.6,267.0 99.2,265.9 99.7,264.7 100.2,263.3 100.7,262.0 101.2,260.6 101.7,259.3 102.2,258.1 102.7,257.1 103.2,256.0 103.8,255.0 104.3,254.0 104.8,253.1 105.3,252.1 105.8,251.2 106.3,250.3 106.8,249.4 107.3,248.5 107.8,247.6 108.3,246.7 108.8,245.8 109.4,244.9 109.9,244.0 110.4,243.2 110.9,242.3 111.4,241.5 111.9,240.6 112.4,239.8 112.9,239.0 113.4,238.1 113.9,237.3 114.5,236.6 115.0,235.8 115.5,235.0 116.0,234.2 116.5,233.3 117.0,232.3 117.5,231.3 118.0,230.2 118.5,229.0 119.0,227.7 119.6,226.4 120.1,224.9 120.6,223.5 121.1,221.8 121.6,220.0 122.1,218.1 122.6,216.1 123.1,214.2 123.6,212.3 124.2,210.2 124.7,208.3 125.2,206.7 125.7,205.1 126.2,203.8 126.7,203.3 127.2,204.1 127.7,205.8 128.2,208.5 128.7,212.4 129.2,216.9 129.8,222.5 130.3,228.8 130.8,234.8 131.3,240.4 131.8,245.8 132.3,251.1 132.8,256.0 133.3,260.8 133.8,265.6 134.3,269.8 134.9,273.0 135.4,275.5 135.9,277.7 136.4,279.6 136.9,281.3 137.4,282.6 137.9,283.6 138.4,284.4 138.9,285.1 139.4,285.8 140.0,286.3 140.5,286.8 141.0,287.2 141.5,287.4 142.0,287.6 142.5,287.8 143.0,288.0 143.5,288.1 144.0,288.2 144.5,288.3 145.1,288.4 145.6,288.5 146.1,288.6 146.6,288.7 147.1,288.7 147.6,288.7 148.1,288.8 148.6,288.8 149.1,288.8 149.6,288.8 150.2,288.8 150.7,288.8 151.2,288.8 151.7,288.8 152.2,288.8 152.7,288.8 153.2,288.9 153.7,288.9 154.2,288.9 154.8,288.9 155.3,288.9 155.8,288.9 156.3,288.9 156.8,288.9 157.3,288.9 157.8,288.9 158.3,288.9 158.8,288.9 159.3,288.9 159.8,288.9 160.4,288.9 160.9,288.9 161.4,288.9 161.9,288.9 162.4,289.0 162.9,289.0 163.4,289.0 163.9,289.0 164.4,289.0 164.9,289.0 165.5,289.0 166.0,289.0 166.5,289.0 167.0,289.0 167.5,289.0 168.0,289.0 168.5,289.0 169.0,289.0 169.5,289.0 170.0,289.0 170.6,289.0 171.1,289.0 171.6,289.1 172.1,289.1 172.6,289.1 173.1,289.1 173.6,289.1 174.1,289.1 174.6,289.1 175.2,289.1 175.7,289.1 176.2,289.1 176.7,289.1 177.2,289.1 177.7,289.1" fill="none" stroke="#111" stroke-width="1.25" stroke-dasharray="3 1.8 1 2"/>
<path d="M265.0,194.10 V291.4 H412.50" fill="none" stroke="#333" stroke-width="1.15"/>
<path d="M260.70,291.40 H265.0" stroke="#333" stroke-width="1.15"/>
<text x="259.70" y="294.00" class="yl">0.00</text>
<path d="M260.70,282.55 H265.0" stroke="#333" stroke-width="1.15"/>
<text x="259.70" y="285.15" class="yl">0.25</text>
<path d="M260.70,273.71 H265.0" stroke="#333" stroke-width="1.15"/>
<text x="259.70" y="276.31" class="yl">0.50</text>
<path d="M260.70,264.86 H265.0" stroke="#333" stroke-width="1.15"/>
<text x="259.70" y="267.46" class="yl">0.75</text>
<path d="M260.70,256.02 H265.0" stroke="#333" stroke-width="1.15"/>
<text x="259.70" y="258.62" class="yl">1.00</text>
<path d="M260.70,247.17 H265.0" stroke="#333" stroke-width="1.15"/>
<text x="259.70" y="249.77" class="yl">1.25</text>
<path d="M260.70,238.33 H265.0" stroke="#333" stroke-width="1.15"/>
<text x="259.70" y="240.93" class="yl">1.50</text>
<path d="M260.70,229.48 H265.0" stroke="#333" stroke-width="1.15"/>
<text x="259.70" y="232.08" class="yl">1.75</text>
<path d="M260.70,220.64 H265.0" stroke="#333" stroke-width="1.15"/>
<text x="259.70" y="223.24" class="yl">2.00</text>
<path d="M260.70,211.79 H265.0" stroke="#333" stroke-width="1.15"/>
<text x="259.70" y="214.39" class="yl">2.25</text>
<path d="M260.70,202.95 H265.0" stroke="#333" stroke-width="1.15"/>
<text x="259.70" y="205.55" class="yl">2.50</text>
<path d="M260.70,194.10 H265.0" stroke="#333" stroke-width="1.15"/>
<text x="259.70" y="196.70" class="yl">2.75</text>
<path d="M266.90,291.4 V295.70" stroke="#333" stroke-width="1.15"/>
<text x="269.80" y="302.90" class="xl" transform="rotate(-45 269.80 302.90)">380</text>
<path d="M277.10,291.4 V295.70" stroke="#333" stroke-width="1.15"/>
<text x="280.00" y="302.90" class="xl" transform="rotate(-45 280.00 302.90)">410</text>
<path d="M287.30,291.4 V295.70" stroke="#333" stroke-width="1.15"/>
<text x="290.20" y="302.90" class="xl" transform="rotate(-45 290.20 302.90)">440</text>
<path d="M297.50,291.4 V295.70" stroke="#333" stroke-width="1.15"/>
<text x="300.40" y="302.90" class="xl" transform="rotate(-45 300.40 302.90)">470</text>
<path d="M307.70,291.4 V295.70" stroke="#333" stroke-width="1.15"/>
<text x="310.60" y="302.90" class="xl" transform="rotate(-45 310.60 302.90)">500</text>
<path d="M317.90,291.4 V295.70" stroke="#333" stroke-width="1.15"/>
<text x="320.80" y="302.90" class="xl" transform="rotate(-45 320.80 302.90)">530</text>
<path d="M328.10,291.4 V295.70" stroke="#333" stroke-width="1.15"/>
<text x="331.00" y="302.90" class="xl" transform="rotate(-45 331.00 302.90)">560</text>
<path d="M338.30,291.4 V295.70" stroke="#333" stroke-width="1.15"/>
<text x="341.20" y="302.90" class="xl" transform="rotate(-45 341.20 302.90)">590</text>
<path d="M348.50,291.4 V295.70" stroke="#333" stroke-width="1.15"/>
<text x="351.40" y="302.90" class="xl" transform="rotate(-45 351.40 302.90)">620</text>
<path d="M358.70,291.4 V295.70" stroke="#333" stroke-width="1.15"/>
<text x="361.60" y="302.90" class="xl" transform="rotate(-45 361.60 302.90)">650</text>
<path d="M368.90,291.4 V295.70" stroke="#333" stroke-width="1.15"/>
<text x="371.80" y="302.90" class="xl" transform="rotate(-45 371.80 302.90)">680</text>
<path d="M379.10,291.4 V295.70" stroke="#333" stroke-width="1.15"/>
<text x="382.00" y="302.90" class="xl" transform="rotate(-45 382.00 302.90)">710</text>
<path d="M389.30,291.4 V295.70" stroke="#333" stroke-width="1.15"/>
<text x="392.20" y="302.90" class="xl" transform="rotate(-45 392.20 302.90)">740</text>
<path d="M399.50,291.4 V295.70" stroke="#333" stroke-width="1.15"/>
<text x="402.40" y="302.90" class="xl" transform="rotate(-45 402.40 302.90)">770</text>
<path d="M409.70,291.4 V295.70" stroke="#333" stroke-width="1.15"/>
<text x="412.60" y="302.90" class="xl" transform="rotate(-45 412.60 302.90)">800</text>
<text x="337.45" y="326.40" class="at">nm</text>
<text x="241.00" y="242.25" class="ab" transform="rotate(-90 241.00 242.25)">ABS</text>
<text x="338.15" y="181.20" class="ti">NR</text>
<text x="229.9" y="182.1" class="le" font-size="13.8">E</text>
<path d="M411.2,200.60 H421.70" stroke="#111" stroke-width="1"/>
<text x="428.20" y="203.20" class="lg">1h</text>
<path d="M411.2,213.80 H421.70" stroke="#111" stroke-width="1" stroke-dasharray="3 1.8"/>
<text x="428.20" y="216.40" class="lg">2h</text>
<path d="M411.2,227.00 H421.70" stroke="#111" stroke-width="1" stroke-dasharray="1 1.7"/>
<text x="428.20" y="229.60" class="lg">3h</text>
<path d="M411.2,240.20 H421.70" stroke="#111" stroke-width="1" stroke-dasharray="3 1.8 1 2"/>
<text x="428.20" y="242.80" class="lg">4h</text>
<path d="M266.9,289.3 267.4,289.2 267.9,289.2 268.4,289.2 268.9,289.2 269.4,289.1 270.0,289.1 270.5,289.1 271.0,289.0 271.5,289.0 272.0,289.0 272.5,288.9 273.0,288.9 273.5,288.9 274.0,288.8 274.5,288.8 275.1,288.8 275.6,288.7 276.1,288.7 276.6,288.7 277.1,288.7 277.6,288.6 278.1,288.6 278.6,288.6 279.1,288.5 279.6,288.5 280.2,288.5 280.7,288.5 281.2,288.4 281.7,288.4 282.2,288.4 282.7,288.3 283.2,288.3 283.7,288.3 284.2,288.2 284.8,288.2 285.3,288.1 285.8,288.1 286.3,288.1 286.8,288.0 287.3,288.0 287.8,287.9 288.3,287.9 288.8,287.8 289.3,287.8 289.8,287.7 290.4,287.6 290.9,287.6 291.4,287.5 291.9,287.4 292.4,287.3 292.9,287.3 293.4,287.1 293.9,287.0 294.4,286.9 294.9,286.8 295.5,286.6 296.0,286.5 296.5,286.3 297.0,286.2 297.5,286.0 298.0,285.8 298.5,285.7 299.0,285.5 299.5,285.3 300.0,285.1 300.6,285.0 301.1,284.8 301.6,284.6 302.1,284.4 302.6,284.2 303.1,284.0 303.6,283.8 304.1,283.5 304.6,283.3 305.1,283.0 305.7,282.7 306.2,282.4 306.7,282.0 307.2,281.6 307.7,281.2 308.2,280.9 308.7,280.5 309.2,280.1 309.7,279.7 310.2,279.4 310.8,279.0 311.3,278.7 311.8,278.4 312.3,278.0 312.8,277.7 313.3,277.4 313.8,277.1 314.3,276.8 314.8,276.5 315.3,276.2 315.9,276.0 316.4,275.8 316.9,275.5 317.4,275.3 317.9,275.1 318.4,274.9 318.9,274.7 319.4,274.6 319.9,274.5 320.4,274.5 321.0,274.4 321.5,274.3 322.0,274.3 322.5,274.3 323.0,274.2 323.5,274.3 324.0,274.4 324.5,274.5 325.0,274.7 325.5,274.9 326.1,275.1 326.6,275.4 327.1,275.7 327.6,276.1 328.1,276.6 328.6,277.2 329.1,277.7 329.6,278.2 330.1,278.7 330.6,279.1 331.2,279.5 331.7,279.9 332.2,280.3 332.7,280.7 333.2,281.1 333.7,281.5 334.2,281.9 334.7,282.3 335.2,282.8 335.8,283.3 336.3,283.7 336.8,284.2 337.3,284.7 337.8,285.1 338.3,285.5 338.8,285.8 339.3,286.1 339.8,286.4 340.3,286.7 340.8,286.9 341.4,287.2 341.9,287.4 342.4,287.7 342.9,287.9 343.4,288.1 343.9,288.3 344.4,288.5 344.9,288.7 345.4,288.8 345.9,289.0 346.5,289.1 347.0,289.2 347.5,289.3 348.0,289.4 348.5,289.5 349.0,289.5 349.5,289.5 350.0,289.6 350.5,289.6 351.0,289.7 351.6,289.7 352.1,289.7 352.6,289.8 353.1,289.8 353.6,289.8 354.1,289.8 354.6,289.9 355.1,289.9 355.6,289.9 356.1,289.9 356.7,289.9 357.2,289.9 357.7,289.9 358.2,289.9 358.7,289.9 359.2,289.9 359.7,289.9 360.2,289.9 360.7,289.9 361.2,289.9 361.8,289.9 362.3,289.9 362.8,289.9 363.3,289.9 363.8,289.9 364.3,289.9 364.8,289.9 365.3,289.9 365.8,289.9 366.3,289.9 366.9,289.9 367.4,289.9 367.9,289.9 368.4,289.9 368.9,289.9 369.4,289.9 369.9,289.9 370.4,289.9 370.9,290.0 371.4,290.0 372.0,290.0 372.5,290.0 373.0,290.0 373.5,290.0 374.0,290.0 374.5,290.0 375.0,290.0 375.5,290.0 376.0,290.0 376.5,290.0 377.1,290.0 377.6,290.0 378.1,290.0 378.6,290.0 379.1,290.0 379.6,290.0 380.1,290.0 380.6,290.0 381.1,290.0 381.6,290.0 382.2,290.0 382.7,290.0 383.2,290.0 383.7,290.0 384.2,290.0 384.7,290.0 385.2,290.0 385.7,290.0 386.2,290.0 386.8,290.0 387.3,290.0 387.8,290.0 388.3,290.0 388.8,290.0 389.3,290.0 389.8,290.0 390.3,290.0 390.8,290.0 391.3,290.0 391.8,290.0 392.4,290.0 392.9,290.0 393.4,290.0 393.9,290.0 394.4,290.0 394.9,290.0 395.4,290.0 395.9,290.0 396.4,290.0 396.9,290.0 397.5,290.0 398.0,290.0 398.5,290.0 399.0,290.0 399.5,290.0 400.0,290.0 400.5,290.0 401.0,290.0 401.5,290.0 402.0,290.0 402.6,290.0 403.1,290.0 403.6,290.0 404.1,290.0 404.6,290.0 405.1,290.0 405.6,290.0 406.1,290.0 406.6,290.0 407.1,290.0 407.7,290.0 408.2,290.0 408.7,290.0 409.2,290.0 409.7,290.0" fill="none" stroke="#111" stroke-width="1.25"/>
<path d="M266.9,289.2 267.4,289.2 267.9,289.2 268.4,289.1 268.9,289.1 269.4,289.1 270.0,289.1 270.5,289.0 271.0,289.0 271.5,289.0 272.0,288.9 272.5,288.9 273.0,288.9 273.5,288.8 274.0,288.8 274.5,288.8 275.1,288.7 275.6,288.7 276.1,288.7 276.6,288.6 277.1,288.6 277.6,288.6 278.1,288.5 278.6,288.5 279.1,288.4 279.6,288.4 280.2,288.3 280.7,288.3 281.2,288.2 281.7,288.2 282.2,288.1 282.7,288.1 283.2,288.0 283.7,287.9 284.2,287.9 284.8,287.8 285.3,287.7 285.8,287.6 286.3,287.6 286.8,287.5 287.3,287.4 287.8,287.3 288.3,287.1 288.8,287.0 289.3,286.9 289.8,286.8 290.4,286.6 290.9,286.5 291.4,286.3 291.9,286.2 292.4,286.0 292.9,285.7 293.4,285.5 293.9,285.2 294.4,284.9 294.9,284.6 295.5,284.3 296.0,284.0 296.5,283.7 297.0,283.5 297.5,283.2 298.0,282.9 298.5,282.7 299.0,282.4 299.5,282.1 300.0,281.8 300.6,281.6 301.1,281.3 301.6,281.0 302.1,280.7 302.6,280.3 303.1,280.0 303.6,279.6 304.1,279.2 304.6,278.8 305.1,278.4 305.7,277.9 306.2,277.4 306.7,276.9 307.2,276.4 307.7,275.8 308.2,275.3 308.7,274.8 309.2,274.2 309.7,273.6 310.2,273.0 310.8,272.4 311.3,271.7 311.8,271.0 312.3,270.4 312.8,269.7 313.3,269.1 313.8,268.6 314.3,268.1 314.8,267.6 315.3,267.1 315.9,266.7 316.4,266.3 316.9,265.9 317.4,265.5 317.9,265.2 318.4,264.9 318.9,264.6 319.4,264.4 319.9,264.2 320.4,264.0 321.0,263.8 321.5,263.7 322.0,263.6 322.5,263.5 323.0,263.5 323.5,263.5 324.0,263.7 324.5,263.9 325.0,264.3 325.5,264.7 326.1,265.1 326.6,265.5 327.1,266.0 327.6,266.6 328.1,267.3 328.6,268.0 329.1,268.8 329.6,269.7 330.1,270.5 330.6,271.2 331.2,272.0 331.7,272.7 332.2,273.4 332.7,274.2 333.2,274.9 333.7,275.7 334.2,276.4 334.7,277.2 335.2,277.9 335.8,278.7 336.3,279.5 336.8,280.3 337.3,281.0 337.8,281.8 338.3,282.5 338.8,283.1 339.3,283.7 339.8,284.3 340.3,284.9 340.8,285.4 341.4,285.9 341.9,286.3 342.4,286.7 342.9,287.1 343.4,287.5 343.9,287.8 344.4,288.1 344.9,288.3 345.4,288.5 345.9,288.7 346.5,288.9 347.0,289.0 347.5,289.1 348.0,289.2 348.5,289.3 349.0,289.4 349.5,289.5 350.0,289.5 350.5,289.6 351.0,289.6 351.6,289.6 352.1,289.7 352.6,289.7 353.1,289.8 353.6,289.8 354.1,289.8 354.6,289.8 355.1,289.9 355.6,289.9 356.1,289.9 356.7,289.9 357.2,289.9 357.7,289.9 358.2,289.9 358.7,289.9 359.2,289.9 359.7,289.9 360.2,289.9 360.7,289.9 361.2,289.9 361.8,289.9 362.3,289.9 362.8,289.9 363.3,289.9 363.8,289.9 364.3,289.9 364.8,289.9 365.3,289.9 365.8,289.9 366.3,289.9 366.9,289.9 367.4,289.9 367.9,289.9 368.4,289.9 368.9,289.9 369.4,289.9 369.9,289.9 370.4,289.9 370.9,290.0 371.4,290.0 372.0,290.0 372.5,290.0 373.0,290.0 373.5,290.0 374.0,290.0 374.5,290.0 375.0,290.0 375.5,290.0 376.0,290.0 376.5,290.0 377.1,290.0 377.6,290.0 378.1,290.0 378.6,290.0 379.1,290.0 379.6,290.0 380.1,290.0 380.6,290.0 381.1,290.0 381.6,290.0 382.2,290.0 382.7,290.0 383.2,290.0 383.7,290.0 384.2,290.0 384.7,290.0 385.2,290.0 385.7,290.0 386.2,290.0 386.8,290.0 387.3,290.0 387.8,290.0 388.3,290.0 388.8,290.0 389.3,290.0 389.8,290.0 390.3,290.0 390.8,290.0 391.3,290.0 391.8,290.0 392.4,290.0 392.9,290.0 393.4,290.0 393.9,290.0 394.4,290.0 394.9,290.0 395.4,290.0 395.9,290.0 396.4,290.0 396.9,290.0 397.5,290.0 398.0,290.0 398.5,290.0 399.0,290.0 399.5,290.0 400.0,290.0 400.5,290.0 401.0,290.0 401.5,290.0 402.0,290.0 402.6,290.0 403.1,290.0 403.6,290.0 404.1,290.0 404.6,290.0 405.1,290.0 405.6,290.0 406.1,290.0 406.6,290.0 407.1,290.0 407.7,290.0 408.2,290.0 408.7,290.0 409.2,290.0 409.7,290.0" fill="none" stroke="#111" stroke-width="1.25" stroke-dasharray="3 1.8"/>
<path d="M266.9,289.1 267.4,289.1 267.9,289.1 268.4,289.1 268.9,289.1 269.4,289.0 270.0,289.0 270.5,289.0 271.0,289.0 271.5,289.0 272.0,288.9 272.5,288.9 273.0,288.9 273.5,288.8 274.0,288.8 274.5,288.7 275.1,288.7 275.6,288.7 276.1,288.6 276.6,288.6 277.1,288.5 277.6,288.5 278.1,288.5 278.6,288.4 279.1,288.3 279.6,288.3 280.2,288.2 280.7,288.1 281.2,288.1 281.7,288.0 282.2,287.9 282.7,287.8 283.2,287.7 283.7,287.6 284.2,287.5 284.8,287.4 285.3,287.3 285.8,287.2 286.3,287.1 286.8,286.9 287.3,286.8 287.8,286.6 288.3,286.4 288.8,286.2 289.3,286.0 289.8,285.8 290.4,285.6 290.9,285.4 291.4,285.2 291.9,284.9 292.4,284.6 292.9,284.3 293.4,283.9 293.9,283.4 294.4,282.9 294.9,282.5 295.5,282.0 296.0,281.6 296.5,281.2 297.0,280.8 297.5,280.4 298.0,280.1 298.5,279.7 299.0,279.3 299.5,279.0 300.0,278.6 300.6,278.2 301.1,277.8 301.6,277.4 302.1,277.0 302.6,276.5 303.1,276.1 303.6,275.6 304.1,275.0 304.6,274.4 305.1,273.8 305.7,273.2 306.2,272.5 306.7,271.9 307.2,271.2 307.7,270.5 308.2,269.8 308.7,269.1 309.2,268.4 309.7,267.6 310.2,266.8 310.8,265.9 311.3,264.9 311.8,263.9 312.3,262.9 312.8,261.9 313.3,261.0 313.8,260.2 314.3,259.5 314.8,258.9 315.3,258.2 315.9,257.6 316.4,257.1 316.9,256.5 317.4,256.0 317.9,255.5 318.4,255.1 318.9,254.7 319.4,254.4 319.9,254.1 320.4,253.8 321.0,253.5 321.5,253.3 322.0,253.1 322.5,252.9 323.0,252.9 323.5,253.0 324.0,253.2 324.5,253.6 325.0,254.1 325.5,254.6 326.1,255.2 326.6,255.9 327.1,256.6 327.6,257.3 328.1,258.1 328.6,259.1 329.1,260.1 329.6,261.3 330.1,262.4 330.6,263.5 331.2,264.6 331.7,265.7 332.2,266.7 332.7,267.8 333.2,268.9 333.7,270.0 334.2,271.0 334.7,272.1 335.2,273.2 335.8,274.2 336.3,275.3 336.8,276.4 337.3,277.5 337.8,278.5 338.3,279.5 338.8,280.5 339.3,281.4 339.8,282.2 340.3,283.1 340.8,283.9 341.4,284.6 341.9,285.3 342.4,285.8 342.9,286.3 343.4,286.8 343.9,287.3 344.4,287.7 344.9,288.0 345.4,288.2 345.9,288.4 346.5,288.6 347.0,288.8 347.5,288.9 348.0,289.1 348.5,289.2 349.0,289.3 349.5,289.4 350.0,289.4 350.5,289.5 351.0,289.5 351.6,289.6 352.1,289.6 352.6,289.7 353.1,289.7 353.6,289.8 354.1,289.8 354.6,289.8 355.1,289.8 355.6,289.9 356.1,289.9 356.7,289.9 357.2,289.9 357.7,289.9 358.2,289.9 358.7,289.9 359.2,289.9 359.7,289.9 360.2,289.9 360.7,289.9 361.2,289.9 361.8,289.9 362.3,289.9 362.8,289.9 363.3,289.9 363.8,289.9 364.3,289.9 364.8,289.9 365.3,289.9 365.8,289.9 366.3,289.9 366.9,289.9 367.4,289.9 367.9,289.9 368.4,289.9 368.9,289.9 369.4,289.9 369.9,289.9 370.4,290.0 370.9,290.0 371.4,290.0 372.0,290.0 372.5,290.0 373.0,290.0 373.5,290.0 374.0,290.0 374.5,290.0 375.0,290.0 375.5,290.0 376.0,290.0 376.5,290.0 377.1,290.0 377.6,290.0 378.1,290.0 378.6,290.0 379.1,290.0 379.6,290.0 380.1,290.0 380.6,290.0 381.1,290.0 381.6,290.0 382.2,290.0 382.7,290.0 383.2,290.0 383.7,290.0 384.2,290.0 384.7,290.0 385.2,290.0 385.7,290.0 386.2,290.0 386.8,290.0 387.3,290.0 387.8,290.0 388.3,290.0 388.8,290.0 389.3,290.0 389.8,290.0 390.3,290.0 390.8,290.0 391.3,290.0 391.8,290.0 392.4,290.0 392.9,290.0 393.4,290.0 393.9,290.0 394.4,290.0 394.9,290.0 395.4,290.0 395.9,290.0 396.4,290.0 396.9,290.0 397.5,290.0 398.0,290.0 398.5,290.0 399.0,290.0 399.5,290.0 400.0,290.0 400.5,290.0 401.0,290.0 401.5,290.0 402.0,290.0 402.6,290.0 403.1,290.0 403.6,290.0 404.1,290.0 404.6,290.0 405.1,290.0 405.6,290.0 406.1,290.0 406.6,290.0 407.1,290.0 407.7,290.0 408.2,290.0 408.7,290.0 409.2,290.0 409.7,290.0" fill="none" stroke="#111" stroke-width="1.25" stroke-dasharray="1 1.7"/>
<path d="M266.9,289.1 267.4,289.1 267.9,289.1 268.4,289.1 268.9,289.1 269.4,289.0 270.0,289.0 270.5,289.0 271.0,289.0 271.5,288.9 272.0,288.9 272.5,288.9 273.0,288.9 273.5,288.8 274.0,288.8 274.5,288.7 275.1,288.7 275.6,288.7 276.1,288.6 276.6,288.6 277.1,288.5 277.6,288.5 278.1,288.4 278.6,288.4 279.1,288.3 279.6,288.3 280.2,288.2 280.7,288.1 281.2,288.1 281.7,288.0 282.2,287.9 282.7,287.8 283.2,287.7 283.7,287.6 284.2,287.5 284.8,287.4 285.3,287.3 285.8,287.2 286.3,287.0 286.8,286.9 287.3,286.7 287.8,286.5 288.3,286.4 288.8,286.2 289.3,286.0 289.8,285.7 290.4,285.5 290.9,285.3 291.4,285.0 291.9,284.8 292.4,284.5 292.9,284.1 293.4,283.7 293.9,283.2 294.4,282.7 294.9,282.3 295.5,281.8 296.0,281.4 296.5,280.9 297.0,280.5 297.5,280.2 298.0,279.8 298.5,279.4 299.0,279.0 299.5,278.6 300.0,278.3 300.6,277.9 301.1,277.5 301.6,277.0 302.1,276.6 302.6,276.1 303.1,275.6 303.6,275.1 304.1,274.6 304.6,274.0 305.1,273.3 305.7,272.7 306.2,272.0 306.7,271.3 307.2,270.7 307.7,270.0 308.2,269.3 308.7,268.5 309.2,267.8 309.7,267.0 310.2,266.1 310.8,265.2 311.3,264.2 311.8,263.1 312.3,262.1 312.8,261.1 313.3,260.2 313.8,259.3 314.3,258.6 314.8,258.0 315.3,257.3 315.9,256.7 316.4,256.1 316.9,255.5 317.4,255.0 317.9,254.5 318.4,254.0 318.9,253.6 319.4,253.3 319.9,253.0 320.4,252.7 321.0,252.4 321.5,252.2 322.0,252.0 322.5,251.8 323.0,251.8 323.5,251.9 324.0,252.1 324.5,252.5 325.0,253.0 325.5,253.6 326.1,254.2 326.6,254.9 327.1,255.6 327.6,256.3 328.1,257.1 328.6,258.1 329.1,259.2 329.6,260.4 330.1,261.6 330.6,262.7 331.2,263.8 331.7,264.9 332.2,266.0 332.7,267.1 333.2,268.2 333.7,269.4 334.2,270.5 334.7,271.6 335.2,272.6 335.8,273.7 336.3,274.9 336.8,276.0 337.3,277.1 337.8,278.2 338.3,279.2 338.8,280.2 339.3,281.1 339.8,282.0 340.3,282.9 340.8,283.7 341.4,284.5 341.9,285.1 342.4,285.7 342.9,286.3 343.4,286.8 343.9,287.2 344.4,287.6 344.9,288.0 345.4,288.2 345.9,288.4 346.5,288.6 347.0,288.8 347.5,288.9 348.0,289.1 348.5,289.2 349.0,289.3 349.5,289.4 350.0,289.4 350.5,289.5 351.0,289.5 351.6,289.6 352.1,289.6 352.6,289.7 353.1,289.7 353.6,289.8 354.1,289.8 354.6,289.8 355.1,289.8 355.6,289.9 356.1,289.9 356.7,289.9 357.2,289.9 357.7,289.9 358.2,289.9 358.7,289.9 359.2,289.9 359.7,289.9 360.2,289.9 360.7,289.9 361.2,289.9 361.8,289.9 362.3,289.9 362.8,289.9 363.3,289.9 363.8,289.9 364.3,289.9 364.8,289.9 365.3,289.9 365.8,289.9 366.3,289.9 366.9,289.9 367.4,289.9 367.9,289.9 368.4,289.9 368.9,289.9 369.4,289.9 369.9,289.9 370.4,290.0 370.9,290.0 371.4,290.0 372.0,290.0 372.5,290.0 373.0,290.0 373.5,290.0 374.0,290.0 374.5,290.0 375.0,290.0 375.5,290.0 376.0,290.0 376.5,290.0 377.1,290.0 377.6,290.0 378.1,290.0 378.6,290.0 379.1,290.0 379.6,290.0 380.1,290.0 380.6,290.0 381.1,290.0 381.6,290.0 382.2,290.0 382.7,290.0 383.2,290.0 383.7,290.0 384.2,290.0 384.7,290.0 385.2,290.0 385.7,290.0 386.2,290.0 386.8,290.0 387.3,290.0 387.8,290.0 388.3,290.0 388.8,290.0 389.3,290.0 389.8,290.0 390.3,290.0 390.8,290.0 391.3,290.0 391.8,290.0 392.4,290.0 392.9,290.0 393.4,290.0 393.9,290.0 394.4,290.0 394.9,290.0 395.4,290.0 395.9,290.0 396.4,290.0 396.9,290.0 397.5,290.0 398.0,290.0 398.5,290.0 399.0,290.0 399.5,290.0 400.0,290.0 400.5,290.0 401.0,290.0 401.5,290.0 402.0,290.0 402.6,290.0 403.1,290.0 403.6,290.0 404.1,290.0 404.6,290.0 405.1,290.0 405.6,290.0 406.1,290.0 406.6,290.0 407.1,290.0 407.7,290.0 408.2,290.0 408.7,290.0 409.2,290.0 409.7,290.0" fill="none" stroke="#111" stroke-width="1.25" stroke-dasharray="3 1.8 1 2"/>
</svg>
</body></html>
